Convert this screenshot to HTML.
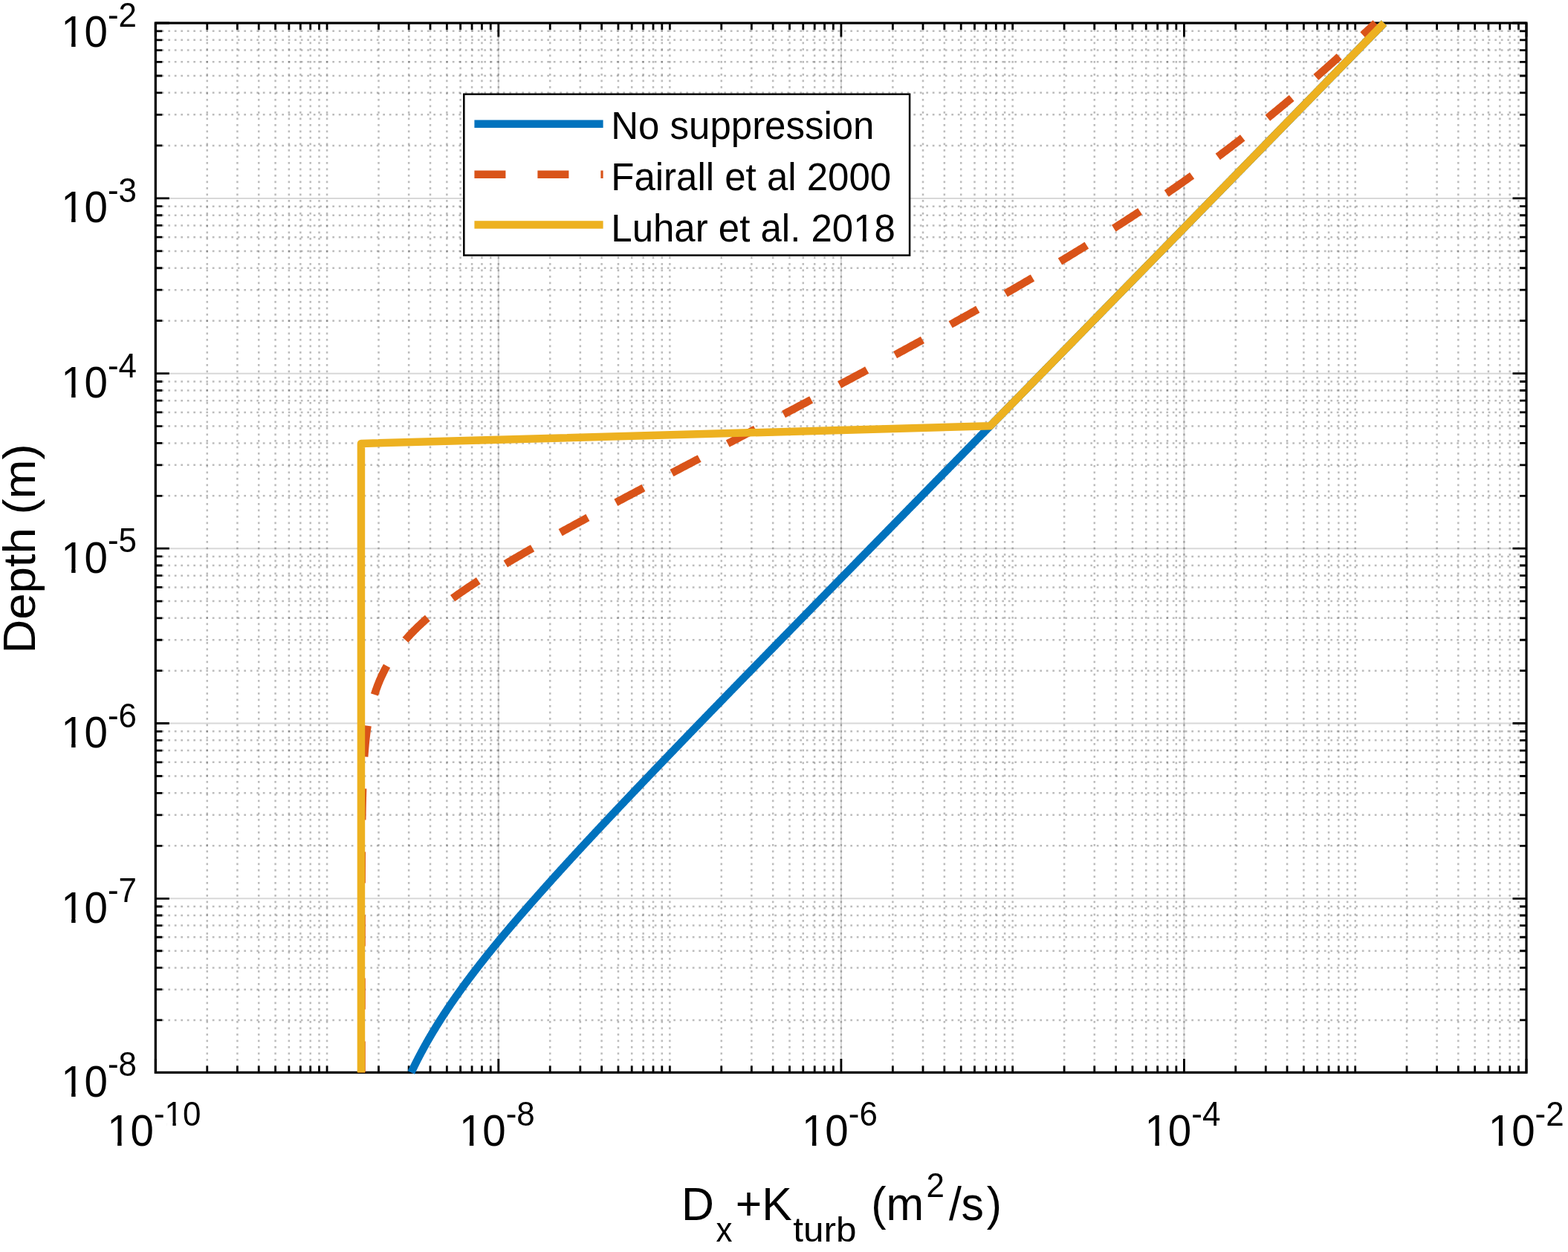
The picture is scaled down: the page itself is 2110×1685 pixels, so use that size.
<!DOCTYPE html>
<html><head><meta charset="utf-8"><style>html,body{margin:0;padding:0;background:#fff;overflow:hidden}svg{display:block}</style></head>
<body>
<svg width="2110" height="1685" viewBox="0 0 2110 1685">
<rect x="0" y="0" width="2110" height="1685" fill="#fff"/>
<style>.mn{stroke:#262626;stroke-opacity:0.31;stroke-width:2.5;stroke-dasharray:2.7 5.8;fill:none}.mj{stroke:#262626;stroke-opacity:0.18;stroke-width:2;fill:none}.tk{stroke:#000;stroke-width:2.8;fill:none}</style>
<g><line x1="278.76" y1="31.00" x2="278.76" y2="1443.40" class="mn"/><line x1="319.40" y1="31.00" x2="319.40" y2="1443.40" class="mn"/><line x1="348.23" y1="31.00" x2="348.23" y2="1443.40" class="mn"/><line x1="370.59" y1="31.00" x2="370.59" y2="1443.40" class="mn"/><line x1="388.86" y1="31.00" x2="388.86" y2="1443.40" class="mn"/><line x1="404.31" y1="31.00" x2="404.31" y2="1443.40" class="mn"/><line x1="417.69" y1="31.00" x2="417.69" y2="1443.40" class="mn"/><line x1="429.49" y1="31.00" x2="429.49" y2="1443.40" class="mn"/><line x1="440.05" y1="31.00" x2="440.05" y2="1443.40" class="mn"/><line x1="509.51" y1="31.00" x2="509.51" y2="1443.40" class="mn"/><line x1="550.15" y1="31.00" x2="550.15" y2="1443.40" class="mn"/><line x1="578.98" y1="31.00" x2="578.98" y2="1443.40" class="mn"/><line x1="601.34" y1="31.00" x2="601.34" y2="1443.40" class="mn"/><line x1="619.61" y1="31.00" x2="619.61" y2="1443.40" class="mn"/><line x1="635.06" y1="31.00" x2="635.06" y2="1443.40" class="mn"/><line x1="648.44" y1="31.00" x2="648.44" y2="1443.40" class="mn"/><line x1="660.24" y1="31.00" x2="660.24" y2="1443.40" class="mn"/><line x1="670.80" y1="31.00" x2="670.80" y2="1443.40" class="mn"/><line x1="740.20" y1="31.00" x2="740.20" y2="1443.40" class="mn"/><line x1="780.80" y1="31.00" x2="780.80" y2="1443.40" class="mn"/><line x1="809.60" y1="31.00" x2="809.60" y2="1443.40" class="mn"/><line x1="831.95" y1="31.00" x2="831.95" y2="1443.40" class="mn"/><line x1="850.20" y1="31.00" x2="850.20" y2="1443.40" class="mn"/><line x1="865.64" y1="31.00" x2="865.64" y2="1443.40" class="mn"/><line x1="879.01" y1="31.00" x2="879.01" y2="1443.40" class="mn"/><line x1="890.80" y1="31.00" x2="890.80" y2="1443.40" class="mn"/><line x1="901.35" y1="31.00" x2="901.35" y2="1443.40" class="mn"/><line x1="970.75" y1="31.00" x2="970.75" y2="1443.40" class="mn"/><line x1="1011.35" y1="31.00" x2="1011.35" y2="1443.40" class="mn"/><line x1="1040.15" y1="31.00" x2="1040.15" y2="1443.40" class="mn"/><line x1="1062.50" y1="31.00" x2="1062.50" y2="1443.40" class="mn"/><line x1="1080.75" y1="31.00" x2="1080.75" y2="1443.40" class="mn"/><line x1="1096.19" y1="31.00" x2="1096.19" y2="1443.40" class="mn"/><line x1="1109.56" y1="31.00" x2="1109.56" y2="1443.40" class="mn"/><line x1="1121.35" y1="31.00" x2="1121.35" y2="1443.40" class="mn"/><line x1="1131.90" y1="31.00" x2="1131.90" y2="1443.40" class="mn"/><line x1="1201.36" y1="31.00" x2="1201.36" y2="1443.40" class="mn"/><line x1="1242.00" y1="31.00" x2="1242.00" y2="1443.40" class="mn"/><line x1="1270.83" y1="31.00" x2="1270.83" y2="1443.40" class="mn"/><line x1="1293.19" y1="31.00" x2="1293.19" y2="1443.40" class="mn"/><line x1="1311.46" y1="31.00" x2="1311.46" y2="1443.40" class="mn"/><line x1="1326.91" y1="31.00" x2="1326.91" y2="1443.40" class="mn"/><line x1="1340.29" y1="31.00" x2="1340.29" y2="1443.40" class="mn"/><line x1="1352.09" y1="31.00" x2="1352.09" y2="1443.40" class="mn"/><line x1="1362.65" y1="31.00" x2="1362.65" y2="1443.40" class="mn"/><line x1="1432.11" y1="31.00" x2="1432.11" y2="1443.40" class="mn"/><line x1="1472.75" y1="31.00" x2="1472.75" y2="1443.40" class="mn"/><line x1="1501.58" y1="31.00" x2="1501.58" y2="1443.40" class="mn"/><line x1="1523.94" y1="31.00" x2="1523.94" y2="1443.40" class="mn"/><line x1="1542.21" y1="31.00" x2="1542.21" y2="1443.40" class="mn"/><line x1="1557.66" y1="31.00" x2="1557.66" y2="1443.40" class="mn"/><line x1="1571.04" y1="31.00" x2="1571.04" y2="1443.40" class="mn"/><line x1="1582.84" y1="31.00" x2="1582.84" y2="1443.40" class="mn"/><line x1="1593.40" y1="31.00" x2="1593.40" y2="1443.40" class="mn"/><line x1="1662.73" y1="31.00" x2="1662.73" y2="1443.40" class="mn"/><line x1="1703.28" y1="31.00" x2="1703.28" y2="1443.40" class="mn"/><line x1="1732.05" y1="31.00" x2="1732.05" y2="1443.40" class="mn"/><line x1="1754.37" y1="31.00" x2="1754.37" y2="1443.40" class="mn"/><line x1="1772.61" y1="31.00" x2="1772.61" y2="1443.40" class="mn"/><line x1="1788.03" y1="31.00" x2="1788.03" y2="1443.40" class="mn"/><line x1="1801.38" y1="31.00" x2="1801.38" y2="1443.40" class="mn"/><line x1="1813.16" y1="31.00" x2="1813.16" y2="1443.40" class="mn"/><line x1="1823.70" y1="31.00" x2="1823.70" y2="1443.40" class="mn"/><line x1="1893.03" y1="31.00" x2="1893.03" y2="1443.40" class="mn"/><line x1="1933.58" y1="31.00" x2="1933.58" y2="1443.40" class="mn"/><line x1="1962.35" y1="31.00" x2="1962.35" y2="1443.40" class="mn"/><line x1="1984.67" y1="31.00" x2="1984.67" y2="1443.40" class="mn"/><line x1="2002.91" y1="31.00" x2="2002.91" y2="1443.40" class="mn"/><line x1="2018.33" y1="31.00" x2="2018.33" y2="1443.40" class="mn"/><line x1="2031.68" y1="31.00" x2="2031.68" y2="1443.40" class="mn"/><line x1="2043.46" y1="31.00" x2="2043.46" y2="1443.40" class="mn"/><line x1="209.30" y1="1372.93" x2="2054.00" y2="1372.93" class="mn"/><line x1="209.30" y1="1331.71" x2="2054.00" y2="1331.71" class="mn"/><line x1="209.30" y1="1302.46" x2="2054.00" y2="1302.46" class="mn"/><line x1="209.30" y1="1279.77" x2="2054.00" y2="1279.77" class="mn"/><line x1="209.30" y1="1261.23" x2="2054.00" y2="1261.23" class="mn"/><line x1="209.30" y1="1245.56" x2="2054.00" y2="1245.56" class="mn"/><line x1="209.30" y1="1231.99" x2="2054.00" y2="1231.99" class="mn"/><line x1="209.30" y1="1220.01" x2="2054.00" y2="1220.01" class="mn"/><line x1="209.30" y1="1138.32" x2="2054.00" y2="1138.32" class="mn"/><line x1="209.30" y1="1096.79" x2="2054.00" y2="1096.79" class="mn"/><line x1="209.30" y1="1067.33" x2="2054.00" y2="1067.33" class="mn"/><line x1="209.30" y1="1044.48" x2="2054.00" y2="1044.48" class="mn"/><line x1="209.30" y1="1025.81" x2="2054.00" y2="1025.81" class="mn"/><line x1="209.30" y1="1010.03" x2="2054.00" y2="1010.03" class="mn"/><line x1="209.30" y1="996.35" x2="2054.00" y2="996.35" class="mn"/><line x1="209.30" y1="984.29" x2="2054.00" y2="984.29" class="mn"/><line x1="209.30" y1="902.67" x2="2054.00" y2="902.67" class="mn"/><line x1="209.30" y1="861.23" x2="2054.00" y2="861.23" class="mn"/><line x1="209.30" y1="831.84" x2="2054.00" y2="831.84" class="mn"/><line x1="209.30" y1="809.03" x2="2054.00" y2="809.03" class="mn"/><line x1="209.30" y1="790.40" x2="2054.00" y2="790.40" class="mn"/><line x1="209.30" y1="774.65" x2="2054.00" y2="774.65" class="mn"/><line x1="209.30" y1="761.00" x2="2054.00" y2="761.00" class="mn"/><line x1="209.30" y1="748.97" x2="2054.00" y2="748.97" class="mn"/><line x1="209.30" y1="667.31" x2="2054.00" y2="667.31" class="mn"/><line x1="209.30" y1="625.84" x2="2054.00" y2="625.84" class="mn"/><line x1="209.30" y1="596.41" x2="2054.00" y2="596.41" class="mn"/><line x1="209.30" y1="573.59" x2="2054.00" y2="573.59" class="mn"/><line x1="209.30" y1="554.95" x2="2054.00" y2="554.95" class="mn"/><line x1="209.30" y1="539.18" x2="2054.00" y2="539.18" class="mn"/><line x1="209.30" y1="525.52" x2="2054.00" y2="525.52" class="mn"/><line x1="209.30" y1="513.48" x2="2054.00" y2="513.48" class="mn"/><line x1="209.30" y1="431.72" x2="2054.00" y2="431.72" class="mn"/><line x1="209.30" y1="390.19" x2="2054.00" y2="390.19" class="mn"/><line x1="209.30" y1="360.73" x2="2054.00" y2="360.73" class="mn"/><line x1="209.30" y1="337.88" x2="2054.00" y2="337.88" class="mn"/><line x1="209.30" y1="319.21" x2="2054.00" y2="319.21" class="mn"/><line x1="209.30" y1="303.43" x2="2054.00" y2="303.43" class="mn"/><line x1="209.30" y1="289.75" x2="2054.00" y2="289.75" class="mn"/><line x1="209.30" y1="277.69" x2="2054.00" y2="277.69" class="mn"/><line x1="209.30" y1="195.89" x2="2054.00" y2="195.89" class="mn"/><line x1="209.30" y1="154.35" x2="2054.00" y2="154.35" class="mn"/><line x1="209.30" y1="124.87" x2="2054.00" y2="124.87" class="mn"/><line x1="209.30" y1="102.01" x2="2054.00" y2="102.01" class="mn"/><line x1="209.30" y1="83.33" x2="2054.00" y2="83.33" class="mn"/><line x1="209.30" y1="67.54" x2="2054.00" y2="67.54" class="mn"/><line x1="209.30" y1="53.86" x2="2054.00" y2="53.86" class="mn"/><line x1="209.30" y1="41.79" x2="2054.00" y2="41.79" class="mn"/><line x1="670.80" y1="31.00" x2="670.80" y2="1443.40" class="mj"/><line x1="1131.90" y1="31.00" x2="1131.90" y2="1443.40" class="mj"/><line x1="1593.40" y1="31.00" x2="1593.40" y2="1443.40" class="mj"/><line x1="209.30" y1="1209.30" x2="2054.00" y2="1209.30" class="mj"/><line x1="209.30" y1="973.50" x2="2054.00" y2="973.50" class="mj"/><line x1="209.30" y1="738.20" x2="2054.00" y2="738.20" class="mj"/><line x1="209.30" y1="502.70" x2="2054.00" y2="502.70" class="mj"/><line x1="209.30" y1="266.90" x2="2054.00" y2="266.90" class="mj"/></g>
<path class="tk" d="M209.30 1443.40v-18.5M209.30 31.00v18.5M278.76 1443.40v-9M278.76 31.00v9M319.40 1443.40v-9M319.40 31.00v9M348.23 1443.40v-9M348.23 31.00v9M370.59 1443.40v-9M370.59 31.00v9M388.86 1443.40v-9M388.86 31.00v9M404.31 1443.40v-9M404.31 31.00v9M417.69 1443.40v-9M417.69 31.00v9M429.49 1443.40v-9M429.49 31.00v9M440.05 1443.40v-9M440.05 31.00v9M509.51 1443.40v-9M509.51 31.00v9M550.15 1443.40v-9M550.15 31.00v9M578.98 1443.40v-9M578.98 31.00v9M601.34 1443.40v-9M601.34 31.00v9M619.61 1443.40v-9M619.61 31.00v9M635.06 1443.40v-9M635.06 31.00v9M648.44 1443.40v-9M648.44 31.00v9M660.24 1443.40v-9M660.24 31.00v9M670.80 1443.40v-18.5M670.80 31.00v18.5M740.20 1443.40v-9M740.20 31.00v9M780.80 1443.40v-9M780.80 31.00v9M809.60 1443.40v-9M809.60 31.00v9M831.95 1443.40v-9M831.95 31.00v9M850.20 1443.40v-9M850.20 31.00v9M865.64 1443.40v-9M865.64 31.00v9M879.01 1443.40v-9M879.01 31.00v9M890.80 1443.40v-9M890.80 31.00v9M901.35 1443.40v-9M901.35 31.00v9M970.75 1443.40v-9M970.75 31.00v9M1011.35 1443.40v-9M1011.35 31.00v9M1040.15 1443.40v-9M1040.15 31.00v9M1062.50 1443.40v-9M1062.50 31.00v9M1080.75 1443.40v-9M1080.75 31.00v9M1096.19 1443.40v-9M1096.19 31.00v9M1109.56 1443.40v-9M1109.56 31.00v9M1121.35 1443.40v-9M1121.35 31.00v9M1131.90 1443.40v-18.5M1131.90 31.00v18.5M1201.36 1443.40v-9M1201.36 31.00v9M1242.00 1443.40v-9M1242.00 31.00v9M1270.83 1443.40v-9M1270.83 31.00v9M1293.19 1443.40v-9M1293.19 31.00v9M1311.46 1443.40v-9M1311.46 31.00v9M1326.91 1443.40v-9M1326.91 31.00v9M1340.29 1443.40v-9M1340.29 31.00v9M1352.09 1443.40v-9M1352.09 31.00v9M1362.65 1443.40v-9M1362.65 31.00v9M1432.11 1443.40v-9M1432.11 31.00v9M1472.75 1443.40v-9M1472.75 31.00v9M1501.58 1443.40v-9M1501.58 31.00v9M1523.94 1443.40v-9M1523.94 31.00v9M1542.21 1443.40v-9M1542.21 31.00v9M1557.66 1443.40v-9M1557.66 31.00v9M1571.04 1443.40v-9M1571.04 31.00v9M1582.84 1443.40v-9M1582.84 31.00v9M1593.40 1443.40v-18.5M1593.40 31.00v18.5M1662.73 1443.40v-9M1662.73 31.00v9M1703.28 1443.40v-9M1703.28 31.00v9M1732.05 1443.40v-9M1732.05 31.00v9M1754.37 1443.40v-9M1754.37 31.00v9M1772.61 1443.40v-9M1772.61 31.00v9M1788.03 1443.40v-9M1788.03 31.00v9M1801.38 1443.40v-9M1801.38 31.00v9M1813.16 1443.40v-9M1813.16 31.00v9M1823.70 1443.40v-9M1823.70 31.00v9M1893.03 1443.40v-9M1893.03 31.00v9M1933.58 1443.40v-9M1933.58 31.00v9M1962.35 1443.40v-9M1962.35 31.00v9M1984.67 1443.40v-9M1984.67 31.00v9M2002.91 1443.40v-9M2002.91 31.00v9M2018.33 1443.40v-9M2018.33 31.00v9M2031.68 1443.40v-9M2031.68 31.00v9M2043.46 1443.40v-9M2043.46 31.00v9M2054.00 1443.40v-18.5M2054.00 31.00v18.5M209.30 1443.40h18.5M2054.00 1443.40h-18.5M209.30 1372.93h9M2054.00 1372.93h-9M209.30 1331.71h9M2054.00 1331.71h-9M209.30 1302.46h9M2054.00 1302.46h-9M209.30 1279.77h9M2054.00 1279.77h-9M209.30 1261.23h9M2054.00 1261.23h-9M209.30 1245.56h9M2054.00 1245.56h-9M209.30 1231.99h9M2054.00 1231.99h-9M209.30 1220.01h9M2054.00 1220.01h-9M209.30 1209.30h18.5M2054.00 1209.30h-18.5M209.30 1138.32h9M2054.00 1138.32h-9M209.30 1096.79h9M2054.00 1096.79h-9M209.30 1067.33h9M2054.00 1067.33h-9M209.30 1044.48h9M2054.00 1044.48h-9M209.30 1025.81h9M2054.00 1025.81h-9M209.30 1010.03h9M2054.00 1010.03h-9M209.30 996.35h9M2054.00 996.35h-9M209.30 984.29h9M2054.00 984.29h-9M209.30 973.50h18.5M2054.00 973.50h-18.5M209.30 902.67h9M2054.00 902.67h-9M209.30 861.23h9M2054.00 861.23h-9M209.30 831.84h9M2054.00 831.84h-9M209.30 809.03h9M2054.00 809.03h-9M209.30 790.40h9M2054.00 790.40h-9M209.30 774.65h9M2054.00 774.65h-9M209.30 761.00h9M2054.00 761.00h-9M209.30 748.97h9M2054.00 748.97h-9M209.30 738.20h18.5M2054.00 738.20h-18.5M209.30 667.31h9M2054.00 667.31h-9M209.30 625.84h9M2054.00 625.84h-9M209.30 596.41h9M2054.00 596.41h-9M209.30 573.59h9M2054.00 573.59h-9M209.30 554.95h9M2054.00 554.95h-9M209.30 539.18h9M2054.00 539.18h-9M209.30 525.52h9M2054.00 525.52h-9M209.30 513.48h9M2054.00 513.48h-9M209.30 502.70h18.5M2054.00 502.70h-18.5M209.30 431.72h9M2054.00 431.72h-9M209.30 390.19h9M2054.00 390.19h-9M209.30 360.73h9M2054.00 360.73h-9M209.30 337.88h9M2054.00 337.88h-9M209.30 319.21h9M2054.00 319.21h-9M209.30 303.43h9M2054.00 303.43h-9M209.30 289.75h9M2054.00 289.75h-9M209.30 277.69h9M2054.00 277.69h-9M209.30 266.90h18.5M2054.00 266.90h-18.5M209.30 195.89h9M2054.00 195.89h-9M209.30 154.35h9M2054.00 154.35h-9M209.30 124.87h9M2054.00 124.87h-9M209.30 102.01h9M2054.00 102.01h-9M209.30 83.33h9M2054.00 83.33h-9M209.30 67.54h9M2054.00 67.54h-9M209.30 53.86h9M2054.00 53.86h-9M209.30 41.79h9M2054.00 41.79h-9M209.30 31.00h18.5M2054.00 31.00h-18.5"/>
<rect x="209.30" y="31.00" width="1844.70" height="1412.40" fill="none" stroke="#000" stroke-width="3.2"/>
<path d="M553.37 1443.40 L553.92 1442.23 L554.47 1441.06 L555.03 1439.89 L555.59 1438.72 L556.16 1437.55 L556.72 1436.38 L557.29 1435.21 L557.87 1434.04 L558.45 1432.87 L559.03 1431.70 L559.61 1430.52 L560.20 1429.35 L560.79 1428.18 L561.38 1427.01 L561.98 1425.84 L562.58 1424.67 L563.18 1423.50 L563.79 1422.33 L564.40 1421.16 L565.02 1419.99 L565.63 1418.82 L566.25 1417.65 L566.88 1416.48 L567.51 1415.31 L568.14 1414.14 L568.77 1412.97 L569.41 1411.80 L570.05 1410.63 L570.69 1409.46 L571.34 1408.29 L571.99 1407.11 L572.64 1405.94 L573.30 1404.77 L573.96 1403.60 L574.62 1402.43 L575.29 1401.26 L575.96 1400.09 L576.63 1398.92 L577.31 1397.75 L577.99 1396.58 L578.67 1395.41 L579.35 1394.24 L580.04 1393.07 L580.74 1391.90 L581.43 1390.73 L582.13 1389.56 L582.83 1388.39 L583.54 1387.22 L584.24 1386.05 L584.96 1384.88 L585.67 1383.70 L586.39 1382.53 L587.11 1381.36 L587.83 1380.19 L588.56 1379.02 L589.29 1377.85 L590.02 1376.68 L590.76 1375.51 L591.50 1374.34 L592.24 1373.17 L592.98 1372.00 L593.73 1370.83 L594.48 1369.66 L595.24 1368.49 L595.99 1367.32 L596.75 1366.15 L597.52 1364.98 L598.28 1363.81 L599.05 1362.64 L599.83 1361.47 L600.60 1360.29 L601.38 1359.12 L602.16 1357.95 L602.94 1356.78 L603.73 1355.61 L604.52 1354.44 L605.31 1353.27 L606.11 1352.10 L606.90 1350.93 L607.71 1349.76 L608.51 1348.59 L609.32 1347.42 L610.12 1346.25 L610.94 1345.08 L611.75 1343.91 L612.57 1342.74 L613.39 1341.57 L614.21 1340.40 L615.04 1339.23 L615.87 1338.06 L616.70 1336.88 L617.53 1335.71 L618.37 1334.54 L619.21 1333.37 L620.05 1332.20 L620.89 1331.03 L621.74 1329.86 L622.59 1328.69 L623.44 1327.52 L624.30 1326.35 L625.15 1325.18 L626.01 1324.01 L626.88 1322.84 L627.74 1321.67 L628.61 1320.50 L629.48 1319.33 L630.35 1318.16 L631.22 1316.99 L632.10 1315.82 L632.98 1314.64 L633.86 1313.47 L634.75 1312.30 L635.63 1311.13 L636.52 1309.96 L637.41 1308.79 L638.31 1307.62 L639.20 1306.45 L640.10 1305.28 L641.00 1304.11 L641.90 1302.94 L642.81 1301.77 L643.72 1300.60 L644.63 1299.43 L645.54 1298.26 L646.45 1297.09 L647.37 1295.92 L648.29 1294.75 L649.21 1293.58 L650.13 1292.41 L651.05 1291.23 L651.98 1290.06 L652.91 1288.89 L653.84 1287.72 L654.77 1286.55 L655.71 1285.38 L656.65 1284.21 L657.58 1283.04 L658.53 1281.87 L659.47 1280.70 L660.41 1279.53 L661.36 1278.36 L662.31 1277.19 L663.26 1276.02 L664.21 1274.85 L665.17 1273.68 L666.13 1272.51 L667.08 1271.34 L668.04 1270.17 L669.01 1269.00 L669.97 1267.83 L670.94 1266.65 L671.90 1265.48 L672.87 1264.31 L673.84 1263.14 L674.81 1261.97 L675.79 1260.80 L676.76 1259.63 L677.74 1258.46 L678.72 1257.29 L679.70 1256.12 L680.68 1254.95 L681.67 1253.78 L682.65 1252.61 L683.64 1251.44 L684.63 1250.27 L685.62 1249.10 L686.61 1247.93 L687.61 1246.76 L688.60 1245.59 L689.60 1244.41 L690.60 1243.24 L691.60 1242.07 L692.60 1240.90 L693.60 1239.73 L694.61 1238.56 L695.61 1237.39 L696.62 1236.22 L697.63 1235.05 L698.64 1233.88 L699.65 1232.71 L700.66 1231.54 L701.68 1230.37 L702.69 1229.20 L703.71 1228.03 L704.73 1226.86 L705.75 1225.69 L706.77 1224.52 L707.79 1223.35 L708.82 1222.18 L709.84 1221.00 L710.87 1219.83 L711.90 1218.66 L712.93 1217.49 L713.96 1216.32 L714.99 1215.15 L716.02 1213.98 L717.06 1212.81 L718.09 1211.64 L719.13 1210.47 L720.17 1209.30 L721.21 1208.12 L722.25 1206.94 L723.29 1205.76 L724.33 1204.58 L725.37 1203.40 L726.42 1202.23 L727.47 1201.05 L728.51 1199.87 L729.56 1198.69 L730.61 1197.51 L731.66 1196.33 L732.71 1195.15 L733.76 1193.97 L734.82 1192.79 L735.87 1191.62 L736.93 1190.44 L737.98 1189.26 L739.04 1188.08 L740.10 1186.90 L741.16 1185.72 L742.22 1184.54 L743.28 1183.36 L744.34 1182.18 L745.41 1181.00 L746.47 1179.83 L747.54 1178.65 L748.60 1177.47 L749.67 1176.29 L750.74 1175.11 L751.81 1173.93 L752.88 1172.75 L753.95 1171.57 L755.02 1170.39 L756.09 1169.21 L757.17 1168.04 L758.24 1166.86 L759.32 1165.68 L760.39 1164.50 L761.47 1163.32 L762.55 1162.14 L763.62 1160.96 L764.70 1159.78 L765.78 1158.60 L766.86 1157.42 L767.95 1156.25 L769.03 1155.07 L770.11 1153.89 L771.19 1152.71 L772.28 1151.53 L773.36 1150.35 L774.45 1149.17 L775.54 1147.99 L776.62 1146.81 L777.71 1145.63 L778.80 1144.45 L779.89 1143.28 L780.98 1142.10 L782.07 1140.92 L783.16 1139.74 L784.25 1138.56 L785.35 1137.38 L786.44 1136.20 L787.54 1135.02 L788.63 1133.84 L789.73 1132.66 L790.82 1131.49 L791.92 1130.31 L793.02 1129.13 L794.11 1127.95 L795.21 1126.77 L796.31 1125.59 L797.41 1124.41 L798.51 1123.23 L799.61 1122.05 L800.71 1120.88 L801.81 1119.70 L802.92 1118.52 L804.02 1117.34 L805.12 1116.16 L806.23 1114.98 L807.33 1113.80 L808.44 1112.62 L809.54 1111.44 L810.65 1110.26 L811.76 1109.09 L812.86 1107.91 L813.97 1106.73 L815.08 1105.55 L816.19 1104.37 L817.30 1103.19 L818.41 1102.01 L819.52 1100.83 L820.63 1099.65 L821.74 1098.47 L822.85 1097.30 L823.96 1096.12 L825.07 1094.94 L826.19 1093.76 L827.30 1092.58 L828.41 1091.40 L829.53 1090.22 L830.64 1089.04 L831.76 1087.86 L832.87 1086.68 L833.99 1085.50 L835.11 1084.33 L836.22 1083.15 L837.34 1081.97 L838.46 1080.79 L839.58 1079.61 L840.69 1078.43 L841.81 1077.25 L842.93 1076.07 L844.05 1074.89 L845.17 1073.71 L846.29 1072.54 L847.41 1071.36 L848.53 1070.18 L849.65 1069.00 L850.77 1067.82 L851.90 1066.64 L853.02 1065.46 L854.14 1064.28 L855.26 1063.10 L856.39 1061.92 L857.51 1060.75 L858.64 1059.57 L859.76 1058.39 L860.88 1057.21 L862.01 1056.03 L863.13 1054.85 L864.26 1053.67 L865.39 1052.49 L866.51 1051.31 L867.64 1050.13 L868.76 1048.96 L869.89 1047.78 L871.02 1046.60 L872.15 1045.42 L873.27 1044.24 L874.40 1043.06 L875.53 1041.88 L876.66 1040.70 L877.79 1039.52 L878.92 1038.35 L880.05 1037.17 L881.18 1035.99 L882.31 1034.81 L883.44 1033.63 L884.57 1032.45 L885.70 1031.27 L886.83 1030.09 L887.96 1028.91 L889.09 1027.73 L890.22 1026.55 L891.36 1025.38 L892.49 1024.20 L893.62 1023.02 L894.75 1021.84 L895.89 1020.66 L897.02 1019.48 L898.15 1018.30 L899.29 1017.12 L900.42 1015.94 L901.55 1014.76 L902.69 1013.59 L903.82 1012.41 L904.96 1011.23 L906.09 1010.05 L907.23 1008.87 L908.36 1007.69 L909.50 1006.51 L910.63 1005.33 L911.77 1004.15 L912.90 1002.98 L914.04 1001.80 L915.18 1000.62 L916.31 999.44 L917.45 998.26 L918.59 997.08 L919.72 995.90 L920.86 994.72 L922.00 993.54 L923.14 992.36 L924.27 991.19 L925.41 990.01 L926.55 988.83 L927.69 987.65 L928.83 986.47 L929.97 985.29 L931.10 984.11 L932.24 982.93 L933.38 981.75 L934.52 980.57 L935.66 979.40 L936.80 978.22 L937.94 977.04 L939.08 975.86 L940.22 974.68 L941.36 973.50 L942.50 972.32 L943.64 971.15 L944.78 969.97 L945.92 968.79 L947.06 967.62 L948.20 966.44 L949.35 965.26 L950.49 964.09 L951.63 962.91 L952.77 961.74 L953.91 960.56 L955.05 959.38 L956.19 958.21 L957.34 957.03 L958.48 955.85 L959.62 954.68 L960.76 953.50 L961.91 952.32 L963.05 951.15 L964.19 949.97 L965.33 948.79 L966.48 947.62 L967.62 946.44 L968.76 945.26 L969.91 944.09 L971.05 942.91 L972.19 941.73 L973.34 940.56 L974.48 939.38 L975.62 938.20 L976.77 937.03 L977.91 935.85 L979.06 934.68 L980.20 933.50 L981.34 932.32 L982.49 931.15 L983.63 929.97 L984.78 928.79 L985.92 927.62 L987.07 926.44 L988.21 925.26 L989.36 924.09 L990.50 922.91 L991.65 921.73 L992.79 920.56 L993.94 919.38 L995.08 918.20 L996.23 917.03 L997.37 915.85 L998.52 914.67 L999.67 913.50 L1000.81 912.32 L1001.96 911.15 L1003.10 909.97 L1004.25 908.79 L1005.40 907.62 L1006.54 906.44 L1007.69 905.26 L1008.83 904.09 L1009.98 902.91 L1011.13 901.73 L1012.27 900.56 L1013.42 899.38 L1014.57 898.20 L1015.71 897.03 L1016.86 895.85 L1018.01 894.67 L1019.15 893.50 L1020.30 892.32 L1021.45 891.15 L1022.60 889.97 L1023.74 888.79 L1024.89 887.62 L1026.04 886.44 L1027.18 885.26 L1028.33 884.09 L1029.48 882.91 L1030.63 881.73 L1031.77 880.56 L1032.92 879.38 L1034.07 878.20 L1035.22 877.03 L1036.37 875.85 L1037.51 874.67 L1038.66 873.50 L1039.81 872.32 L1040.96 871.14 L1042.11 869.97 L1043.25 868.79 L1044.40 867.62 L1045.55 866.44 L1046.70 865.26 L1047.85 864.09 L1049.00 862.91 L1050.14 861.73 L1051.29 860.56 L1052.44 859.38 L1053.59 858.20 L1054.74 857.03 L1055.89 855.85 L1057.04 854.67 L1058.19 853.50 L1059.33 852.32 L1060.48 851.14 L1061.63 849.97 L1062.78 848.79 L1063.93 847.61 L1065.08 846.44 L1066.23 845.26 L1067.38 844.08 L1068.53 842.91 L1069.68 841.73 L1070.83 840.56 L1071.97 839.38 L1073.12 838.20 L1074.27 837.03 L1075.42 835.85 L1076.57 834.67 L1077.72 833.50 L1078.87 832.32 L1080.02 831.14 L1081.17 829.97 L1082.32 828.79 L1083.47 827.61 L1084.62 826.44 L1085.77 825.26 L1086.92 824.08 L1088.07 822.91 L1089.22 821.73 L1090.37 820.55 L1091.52 819.38 L1092.67 818.20 L1093.82 817.03 L1094.97 815.85 L1096.12 814.67 L1097.27 813.50 L1098.42 812.32 L1099.57 811.14 L1100.72 809.97 L1101.87 808.79 L1103.02 807.61 L1104.17 806.44 L1105.32 805.26 L1106.47 804.08 L1107.62 802.91 L1108.77 801.73 L1109.92 800.55 L1111.07 799.38 L1112.22 798.20 L1113.37 797.03 L1114.52 795.85 L1115.67 794.67 L1116.82 793.50 L1117.98 792.32 L1119.13 791.14 L1120.28 789.97 L1121.43 788.79 L1122.58 787.61 L1123.73 786.44 L1124.88 785.26 L1126.03 784.08 L1127.18 782.91 L1128.33 781.73 L1129.48 780.55 L1130.63 779.38 L1131.78 778.20 L1132.94 777.02 L1134.09 775.85 L1135.24 774.67 L1136.39 773.50 L1137.54 772.32 L1138.70 771.14 L1139.85 769.97 L1141.00 768.79 L1142.15 767.61 L1143.30 766.44 L1144.46 765.26 L1145.61 764.08 L1146.76 762.91 L1147.91 761.73 L1149.06 760.55 L1150.22 759.38 L1151.37 758.20 L1152.52 757.02 L1153.67 755.85 L1154.83 754.67 L1155.98 753.49 L1157.13 752.32 L1158.28 751.14 L1159.43 749.97 L1160.59 748.79 L1161.74 747.61 L1162.89 746.44 L1164.04 745.26 L1165.20 744.08 L1166.35 742.91 L1167.50 741.73 L1168.65 740.55 L1169.81 739.38 L1170.96 738.20 L1172.11 737.02 L1173.26 735.85 L1174.42 734.67 L1175.57 733.49 L1176.72 732.31 L1177.87 731.13 L1179.03 729.96 L1180.18 728.78 L1181.33 727.60 L1182.48 726.42 L1183.64 725.25 L1184.79 724.07 L1185.94 722.89 L1187.10 721.71 L1188.25 720.54 L1189.40 719.36 L1190.55 718.18 L1191.71 717.01 L1192.86 715.83 L1194.01 714.65 L1195.16 713.47 L1196.32 712.30 L1197.47 711.12 L1198.62 709.94 L1199.78 708.76 L1200.93 707.59 L1202.08 706.41 L1203.23 705.23 L1204.39 704.05 L1205.54 702.88 L1206.69 701.70 L1207.85 700.52 L1209.00 699.34 L1210.15 698.17 L1211.30 696.99 L1212.46 695.81 L1213.61 694.63 L1214.76 693.46 L1215.92 692.28 L1217.07 691.10 L1218.22 689.92 L1219.37 688.75 L1220.53 687.57 L1221.68 686.39 L1222.83 685.21 L1223.99 684.03 L1225.14 682.86 L1226.29 681.68 L1227.45 680.50 L1228.60 679.33 L1229.75 678.15 L1230.90 676.97 L1232.06 675.79 L1233.21 674.62 L1234.36 673.44 L1235.52 672.26 L1236.67 671.08 L1237.82 669.90 L1238.98 668.73 L1240.13 667.55 L1241.28 666.37 L1242.44 665.19 L1243.59 664.02 L1244.74 662.84 L1245.89 661.66 L1247.05 660.49 L1248.20 659.31 L1249.35 658.13 L1250.51 656.95 L1251.66 655.78 L1252.81 654.60 L1253.97 653.42 L1255.12 652.24 L1256.27 651.07 L1257.43 649.89 L1258.58 648.71 L1259.73 647.53 L1260.89 646.35 L1262.04 645.18 L1263.19 644.00 L1264.35 642.82 L1265.50 641.64 L1266.65 640.47 L1267.81 639.29 L1268.96 638.11 L1270.11 636.94 L1271.27 635.76 L1272.42 634.58 L1273.57 633.40 L1274.73 632.23 L1275.88 631.05 L1277.03 629.87 L1278.19 628.69 L1279.34 627.51 L1280.49 626.34 L1281.65 625.16 L1282.80 623.98 L1283.95 622.80 L1285.11 621.63 L1286.26 620.45 L1287.41 619.27 L1288.57 618.10 L1289.72 616.92 L1290.87 615.74 L1292.03 614.56 L1293.18 613.38 L1294.33 612.21 L1295.49 611.03 L1296.64 609.85 L1297.79 608.67 L1298.95 607.50 L1300.10 606.32 L1301.25 605.14 L1302.41 603.96 L1303.56 602.79 L1304.71 601.61 L1305.87 600.43 L1307.02 599.26 L1308.17 598.08 L1309.33 596.90 L1310.48 595.72 L1311.63 594.55 L1312.79 593.37 L1313.94 592.19 L1315.09 591.01 L1316.25 589.84 L1317.40 588.66 L1318.55 587.48 L1319.71 586.30 L1320.86 585.12 L1322.01 583.95 L1323.17 582.77 L1324.32 581.59 L1325.47 580.41 L1326.63 579.24 L1327.78 578.06 L1328.94 576.88 L1330.09 575.71 L1331.24 574.53 L1332.40 573.35 L1333.55 572.17 L1334.70 571.00 L1335.86 569.82 L1337.01 568.64 L1338.16 567.46 L1339.32 566.28 L1340.47 565.11 L1341.62 563.93 L1342.78 562.75 L1343.93 561.58 L1345.08 560.40 L1346.24 559.22 L1347.39 558.04 L1348.54 556.87 L1349.70 555.69 L1350.85 554.51 L1352.01 553.33 L1353.16 552.15 L1354.31 550.98 L1355.47 549.80 L1356.62 548.62 L1357.77 547.44 L1358.93 546.27 L1360.08 545.09 L1361.23 543.91 L1362.39 542.74 L1363.54 541.56 L1364.69 540.38 L1365.85 539.20 L1367.00 538.03 L1368.16 536.85 L1369.31 535.67 L1370.46 534.49 L1371.62 533.31 L1372.77 532.14 L1373.92 530.96 L1375.08 529.78 L1376.23 528.60 L1377.38 527.43 L1378.54 526.25 L1379.69 525.07 L1380.84 523.89 L1382.00 522.72 L1383.15 521.54 L1384.31 520.36 L1385.46 519.19 L1386.61 518.01 L1387.77 516.83 L1388.92 515.65 L1390.07 514.47 L1391.23 513.30 L1392.38 512.12 L1393.53 510.94 L1394.69 509.76 L1395.84 508.59 L1397.00 507.41 L1398.15 506.23 L1399.30 505.05 L1400.46 503.88 L1401.61 502.70 L1402.76 501.52 L1403.92 500.34 L1405.07 499.16 L1406.22 497.98 L1407.38 496.80 L1408.53 495.63 L1409.69 494.45 L1410.84 493.27 L1411.99 492.09 L1413.15 490.91 L1414.30 489.73 L1415.45 488.55 L1416.61 487.37 L1417.76 486.19 L1418.91 485.01 L1420.07 483.84 L1421.22 482.66 L1422.38 481.48 L1423.53 480.30 L1424.68 479.12 L1425.84 477.94 L1426.99 476.76 L1428.14 475.58 L1429.30 474.40 L1430.45 473.22 L1431.60 472.05 L1432.76 470.87 L1433.91 469.69 L1435.07 468.51 L1436.22 467.33 L1437.37 466.15 L1438.53 464.97 L1439.68 463.79 L1440.83 462.61 L1441.99 461.44 L1443.14 460.26 L1444.29 459.08 L1445.45 457.90 L1446.60 456.72 L1447.76 455.54 L1448.91 454.36 L1450.06 453.18 L1451.22 452.00 L1452.37 450.82 L1453.52 449.65 L1454.68 448.47 L1455.83 447.29 L1456.99 446.11 L1458.14 444.93 L1459.29 443.75 L1460.45 442.57 L1461.60 441.39 L1462.75 440.21 L1463.91 439.03 L1465.06 437.85 L1466.21 436.68 L1467.37 435.50 L1468.52 434.32 L1469.68 433.14 L1470.83 431.96 L1471.98 430.78 L1473.14 429.60 L1474.29 428.42 L1475.44 427.24 L1476.60 426.06 L1477.75 424.89 L1478.91 423.71 L1480.06 422.53 L1481.21 421.35 L1482.37 420.17 L1483.52 418.99 L1484.67 417.81 L1485.83 416.63 L1486.98 415.45 L1488.13 414.27 L1489.29 413.10 L1490.44 411.92 L1491.60 410.74 L1492.75 409.56 L1493.90 408.38 L1495.06 407.20 L1496.21 406.02 L1497.36 404.84 L1498.52 403.66 L1499.67 402.49 L1500.83 401.31 L1501.98 400.13 L1503.13 398.95 L1504.29 397.77 L1505.44 396.59 L1506.59 395.41 L1507.75 394.23 L1508.90 393.05 L1510.05 391.87 L1511.21 390.69 L1512.36 389.52 L1513.52 388.34 L1514.67 387.16 L1515.82 385.98 L1516.98 384.80 L1518.13 383.62 L1519.28 382.44 L1520.44 381.26 L1521.59 380.08 L1522.75 378.90 L1523.90 377.73 L1525.05 376.55 L1526.21 375.37 L1527.36 374.19 L1528.51 373.01 L1529.67 371.83 L1530.82 370.65 L1531.98 369.47 L1533.13 368.29 L1534.28 367.11 L1535.44 365.94 L1536.59 364.76 L1537.74 363.58 L1538.90 362.40 L1540.05 361.22 L1541.21 360.04 L1542.36 358.86 L1543.51 357.68 L1544.67 356.50 L1545.82 355.32 L1546.97 354.15 L1548.13 352.97 L1549.28 351.79 L1550.44 350.61 L1551.59 349.43 L1552.74 348.25 L1553.90 347.07 L1555.05 345.89 L1556.20 344.71 L1557.36 343.54 L1558.51 342.36 L1559.66 341.18 L1560.82 340.00 L1561.97 338.82 L1563.13 337.64 L1564.28 336.46 L1565.43 335.28 L1566.59 334.10 L1567.74 332.92 L1568.89 331.74 L1570.05 330.57 L1571.20 329.39 L1572.36 328.21 L1573.51 327.03 L1574.66 325.85 L1575.82 324.67 L1576.97 323.49 L1578.12 322.31 L1579.28 321.13 L1580.43 319.95 L1581.59 318.78 L1582.74 317.60 L1583.89 316.42 L1585.05 315.24 L1586.20 314.06 L1587.35 312.88 L1588.51 311.70 L1589.66 310.52 L1590.82 309.34 L1591.97 308.16 L1593.12 306.99 L1594.27 305.81 L1595.43 304.63 L1596.58 303.45 L1597.73 302.27 L1598.88 301.09 L1600.03 299.91 L1601.18 298.73 L1602.34 297.55 L1603.49 296.38 L1604.64 295.20 L1605.79 294.02 L1606.94 292.84 L1608.09 291.66 L1609.24 290.48 L1610.40 289.30 L1611.55 288.12 L1612.70 286.94 L1613.85 285.76 L1615.00 284.59 L1616.15 283.41 L1617.30 282.23 L1618.46 281.05 L1619.61 279.87 L1620.76 278.69 L1621.91 277.51 L1623.06 276.33 L1624.21 275.15 L1625.36 273.97 L1626.52 272.79 L1627.67 271.62 L1628.82 270.44 L1629.97 269.26 L1631.12 268.08 L1632.27 266.90 L1633.43 265.72 L1634.58 264.54 L1635.73 263.36 L1636.88 262.18 L1638.03 261.00 L1639.18 259.82 L1640.33 258.64 L1641.49 257.46 L1642.64 256.28 L1643.79 255.11 L1644.94 253.93 L1646.09 252.75 L1647.24 251.57 L1648.39 250.39 L1649.55 249.21 L1650.70 248.03 L1651.85 246.85 L1653.00 245.67 L1654.15 244.49 L1655.30 243.31 L1656.46 242.13 L1657.61 240.95 L1658.76 239.77 L1659.91 238.59 L1661.06 237.41 L1662.21 236.23 L1663.36 235.05 L1664.52 233.87 L1665.67 232.69 L1666.82 231.51 L1667.97 230.34 L1669.12 229.16 L1670.27 227.98 L1671.42 226.80 L1672.58 225.62 L1673.73 224.44 L1674.88 223.26 L1676.03 222.08 L1677.18 220.90 L1678.33 219.72 L1679.48 218.54 L1680.64 217.36 L1681.79 216.18 L1682.94 215.00 L1684.09 213.82 L1685.24 212.64 L1686.39 211.46 L1687.55 210.28 L1688.70 209.10 L1689.85 207.92 L1691.00 206.75 L1692.15 205.57 L1693.30 204.39 L1694.45 203.21 L1695.61 202.03 L1696.76 200.85 L1697.91 199.67 L1699.06 198.49 L1700.21 197.31 L1701.36 196.13 L1702.51 194.95 L1703.67 193.77 L1704.82 192.59 L1705.97 191.41 L1707.12 190.23 L1708.27 189.05 L1709.42 187.87 L1710.58 186.69 L1711.73 185.51 L1712.88 184.33 L1714.03 183.16 L1715.18 181.98 L1716.33 180.80 L1717.48 179.62 L1718.64 178.44 L1719.79 177.26 L1720.94 176.08 L1722.09 174.90 L1723.24 173.72 L1724.39 172.54 L1725.54 171.36 L1726.70 170.18 L1727.85 169.00 L1729.00 167.82 L1730.15 166.64 L1731.30 165.46 L1732.45 164.28 L1733.61 163.10 L1734.76 161.92 L1735.91 160.74 L1737.06 159.57 L1738.21 158.39 L1739.36 157.21 L1740.51 156.03 L1741.67 154.85 L1742.82 153.67 L1743.97 152.49 L1745.12 151.31 L1746.27 150.13 L1747.42 148.95 L1748.57 147.77 L1749.73 146.59 L1750.88 145.41 L1752.03 144.23 L1753.18 143.05 L1754.33 141.87 L1755.48 140.69 L1756.64 139.51 L1757.79 138.33 L1758.94 137.16 L1760.09 135.98 L1761.24 134.80 L1762.39 133.62 L1763.54 132.44 L1764.70 131.26 L1765.85 130.08 L1767.00 128.90 L1768.15 127.72 L1769.30 126.54 L1770.45 125.36 L1771.60 124.18 L1772.76 123.00 L1773.91 121.82 L1775.06 120.64 L1776.21 119.46 L1777.36 118.28 L1778.51 117.10 L1779.67 115.92 L1780.82 114.74 L1781.97 113.56 L1783.12 112.39 L1784.27 111.21 L1785.42 110.03 L1786.57 108.85 L1787.73 107.67 L1788.88 106.49 L1790.03 105.31 L1791.18 104.13 L1792.33 102.95 L1793.48 101.77 L1794.63 100.59 L1795.79 99.41 L1796.94 98.23 L1798.09 97.05 L1799.24 95.87 L1800.39 94.69 L1801.54 93.51 L1802.70 92.33 L1803.85 91.15 L1805.00 89.97 L1806.15 88.80 L1807.30 87.62 L1808.45 86.44 L1809.60 85.26 L1810.76 84.08 L1811.91 82.90 L1813.06 81.72 L1814.21 80.54 L1815.36 79.36 L1816.51 78.18 L1817.66 77.00 L1818.82 75.82 L1819.97 74.64 L1821.12 73.46 L1822.27 72.28 L1823.42 71.10 L1824.57 69.92 L1825.72 68.74 L1826.88 67.56 L1828.03 66.38 L1829.18 65.21 L1830.33 64.03 L1831.48 62.85 L1832.63 61.67 L1833.79 60.49 L1834.94 59.31 L1836.09 58.13 L1837.24 56.95 L1838.39 55.77 L1839.54 54.59 L1840.69 53.41 L1841.85 52.23 L1843.00 51.05 L1844.15 49.87 L1845.30 48.69 L1846.45 47.51 L1847.60 46.33 L1848.75 45.15 L1849.91 43.97 L1851.06 42.79 L1852.21 41.62 L1853.36 40.44 L1854.51 39.26 L1855.66 38.08 L1856.82 36.90 L1857.97 35.72 L1859.12 34.54 L1860.27 33.36 L1861.42 32.18 L1862.57 31.00" fill="none" stroke="#0072BD" stroke-width="10.5" stroke-linejoin="round"/>
<path d="M486.52 1443.40 L486.52 1442.23 L486.52 1441.06 L486.52 1439.89 L486.52 1438.72 L486.52 1437.55 L486.52 1436.38 L486.52 1435.21 L486.52 1434.04 L486.52 1432.87 L486.52 1431.70 L486.52 1430.52 L486.52 1429.35 L486.52 1428.18 L486.52 1427.01 L486.52 1425.84 L486.52 1424.67 L486.52 1423.50 L486.52 1422.33 L486.52 1421.16 L486.52 1419.99 L486.52 1418.82 L486.52 1417.65 L486.52 1416.48 L486.52 1415.31 L486.52 1414.14 L486.52 1412.97 L486.52 1411.80 L486.52 1410.63 L486.52 1409.46 L486.52 1408.29 L486.52 1407.11 L486.52 1405.94 L486.52 1404.77 L486.52 1403.60 L486.52 1402.43 L486.52 1401.26 L486.52 1400.09 L486.52 1398.92 L486.52 1397.75 L486.52 1396.58 L486.52 1395.41 L486.52 1394.24 L486.52 1393.07 L486.52 1391.90 L486.52 1390.73 L486.52 1389.56 L486.53 1388.39 L486.53 1387.22 L486.53 1386.05 L486.53 1384.88 L486.53 1383.70 L486.53 1382.53 L486.53 1381.36 L486.53 1380.19 L486.53 1379.02 L486.53 1377.85 L486.53 1376.68 L486.53 1375.51 L486.53 1374.34 L486.53 1373.17 L486.53 1372.00 L486.53 1370.83 L486.53 1369.66 L486.53 1368.49 L486.53 1367.32 L486.53 1366.15 L486.53 1364.98 L486.53 1363.81 L486.53 1362.64 L486.53 1361.47 L486.53 1360.29 L486.53 1359.12 L486.53 1357.95 L486.53 1356.78 L486.53 1355.61 L486.53 1354.44 L486.53 1353.27 L486.53 1352.10 L486.53 1350.93 L486.53 1349.76 L486.53 1348.59 L486.53 1347.42 L486.53 1346.25 L486.53 1345.08 L486.53 1343.91 L486.53 1342.74 L486.53 1341.57 L486.53 1340.40 L486.53 1339.23 L486.53 1338.06 L486.53 1336.88 L486.53 1335.71 L486.53 1334.54 L486.53 1333.37 L486.53 1332.20 L486.53 1331.03 L486.53 1329.86 L486.53 1328.69 L486.53 1327.52 L486.53 1326.35 L486.53 1325.18 L486.53 1324.01 L486.53 1322.84 L486.53 1321.67 L486.53 1320.50 L486.53 1319.33 L486.53 1318.16 L486.53 1316.99 L486.53 1315.82 L486.53 1314.64 L486.53 1313.47 L486.53 1312.30 L486.53 1311.13 L486.53 1309.96 L486.54 1308.79 L486.54 1307.62 L486.54 1306.45 L486.54 1305.28 L486.54 1304.11 L486.54 1302.94 L486.54 1301.77 L486.54 1300.60 L486.54 1299.43 L486.54 1298.26 L486.54 1297.09 L486.54 1295.92 L486.54 1294.75 L486.54 1293.58 L486.54 1292.41 L486.54 1291.23 L486.54 1290.06 L486.54 1288.89 L486.54 1287.72 L486.54 1286.55 L486.54 1285.38 L486.54 1284.21 L486.54 1283.04 L486.54 1281.87 L486.54 1280.70 L486.54 1279.53 L486.55 1278.36 L486.55 1277.19 L486.55 1276.02 L486.55 1274.85 L486.55 1273.68 L486.55 1272.51 L486.55 1271.34 L486.55 1270.17 L486.55 1269.00 L486.55 1267.83 L486.55 1266.65 L486.55 1265.48 L486.55 1264.31 L486.55 1263.14 L486.55 1261.97 L486.55 1260.80 L486.56 1259.63 L486.56 1258.46 L486.56 1257.29 L486.56 1256.12 L486.56 1254.95 L486.56 1253.78 L486.56 1252.61 L486.56 1251.44 L486.56 1250.27 L486.56 1249.10 L486.56 1247.93 L486.57 1246.76 L486.57 1245.59 L486.57 1244.41 L486.57 1243.24 L486.57 1242.07 L486.57 1240.90 L486.57 1239.73 L486.57 1238.56 L486.57 1237.39 L486.58 1236.22 L486.58 1235.05 L486.58 1233.88 L486.58 1232.71 L486.58 1231.54 L486.58 1230.37 L486.58 1229.20 L486.58 1228.03 L486.59 1226.86 L486.59 1225.69 L486.59 1224.52 L486.59 1223.35 L486.59 1222.18 L486.59 1221.00 L486.60 1219.83 L486.60 1218.66 L486.60 1217.49 L486.60 1216.32 L486.60 1215.15 L486.60 1213.98 L486.61 1212.81 L486.61 1211.64 L486.61 1210.47 L486.61 1209.30 L486.61 1208.12 L486.62 1206.94 L486.62 1205.76 L486.62 1204.58 L486.62 1203.40 L486.63 1202.23 L486.63 1201.05 L486.63 1199.87 L486.63 1198.69 L486.64 1197.51 L486.64 1196.33 L486.64 1195.15 L486.64 1193.97 L486.65 1192.79 L486.65 1191.62 L486.65 1190.44 L486.65 1189.26 L486.66 1188.08 L486.66 1186.90 L486.66 1185.72 L486.67 1184.54 L486.67 1183.36 L486.67 1182.18 L486.68 1181.00 L486.68 1179.83 L486.69 1178.65 L486.69 1177.47 L486.69 1176.29 L486.70 1175.11 L486.70 1173.93 L486.71 1172.75 L486.71 1171.57 L486.71 1170.39 L486.72 1169.21 L486.72 1168.04 L486.73 1166.86 L486.73 1165.68 L486.74 1164.50 L486.74 1163.32 L486.75 1162.14 L486.75 1160.96 L486.76 1159.78 L486.76 1158.60 L486.77 1157.42 L486.77 1156.25 L486.78 1155.07 L486.79 1153.89 L486.79 1152.71 L486.80 1151.53 L486.81 1150.35 L486.81 1149.17 L486.82 1147.99 L486.83 1146.81 L486.83 1145.63 L486.84 1144.45 L486.85 1143.28 L486.85 1142.10 L486.86 1140.92 L486.87 1139.74 L486.88 1138.56 L486.89 1137.38 L486.90 1136.20 L486.90 1135.02 L486.91 1133.84 L486.92 1132.66 L486.93 1131.49 L486.94 1130.31 L486.95 1129.13 L486.96 1127.95 L486.97 1126.77 L486.98 1125.59 L486.99 1124.41 L487.00 1123.23 L487.01 1122.05 L487.02 1120.88 L487.04 1119.70 L487.05 1118.52 L487.06 1117.34 L487.07 1116.16 L487.09 1114.98 L487.10 1113.80 L487.11 1112.62 L487.13 1111.44 L487.14 1110.26 L487.15 1109.09 L487.17 1107.91 L487.18 1106.73 L487.20 1105.55 L487.22 1104.37 L487.23 1103.19 L487.25 1102.01 L487.26 1100.83 L487.28 1099.65 L487.30 1098.47 L487.32 1097.30 L487.34 1096.12 L487.35 1094.94 L487.37 1093.76 L487.39 1092.58 L487.41 1091.40 L487.43 1090.22 L487.46 1089.04 L487.48 1087.86 L487.50 1086.68 L487.52 1085.50 L487.55 1084.33 L487.57 1083.15 L487.59 1081.97 L487.62 1080.79 L487.64 1079.61 L487.67 1078.43 L487.70 1077.25 L487.72 1076.07 L487.75 1074.89 L487.78 1073.71 L487.81 1072.54 L487.84 1071.36 L487.87 1070.18 L487.90 1069.00 L487.93 1067.82 L487.96 1066.64 L488.00 1065.46 L488.03 1064.28 L488.07 1063.10 L488.10 1061.92 L488.14 1060.75 L488.18 1059.57 L488.21 1058.39 L488.25 1057.21 L488.29 1056.03 L488.33 1054.85 L488.38 1053.67 L488.42 1052.49 L488.46 1051.31 L488.51 1050.13 L488.55 1048.96 L488.60 1047.78 L488.65 1046.60 L488.70 1045.42 L488.75 1044.24 L488.80 1043.06 L488.85 1041.88 L488.90 1040.70 L488.96 1039.52 L489.02 1038.35 L489.07 1037.17 L489.13 1035.99 L489.19 1034.81 L489.25 1033.63 L489.31 1032.45 L489.38 1031.27 L489.44 1030.09 L489.51 1028.91 L489.58 1027.73 L489.65 1026.55 L489.72 1025.38 L489.80 1024.20 L489.87 1023.02 L489.95 1021.84 L490.03 1020.66 L490.11 1019.48 L490.19 1018.30 L490.27 1017.12 L490.36 1015.94 L490.44 1014.76 L490.53 1013.59 L490.63 1012.41 L490.72 1011.23 L490.81 1010.05 L490.91 1008.87 L491.01 1007.69 L491.11 1006.51 L491.22 1005.33 L491.33 1004.15 L491.43 1002.98 L491.55 1001.80 L491.66 1000.62 L491.78 999.44 L491.90 998.26 L492.02 997.08 L492.14 995.90 L492.27 994.72 L492.40 993.54 L492.53 992.36 L492.67 991.19 L492.81 990.01 L492.95 988.83 L493.09 987.65 L493.24 986.47 L493.39 985.29 L493.55 984.11 L493.70 982.93 L493.87 981.75 L494.03 980.57 L494.20 979.40 L494.37 978.22 L494.55 977.04 L494.73 975.86 L494.91 974.68 L495.10 973.50 L495.29 972.32 L495.48 971.15 L495.68 969.97 L495.89 968.79 L496.09 967.62 L496.31 966.44 L496.52 965.26 L496.74 964.09 L496.97 962.91 L497.20 961.74 L497.44 960.56 L497.68 959.38 L497.92 958.21 L498.17 957.03 L498.43 955.85 L498.69 954.68 L498.95 953.50 L499.23 952.32 L499.50 951.15 L499.79 949.97 L500.08 948.79 L500.37 947.62 L500.67 946.44 L500.98 945.26 L501.29 944.09 L501.61 942.91 L501.94 941.73 L502.27 940.56 L502.61 939.38 L502.95 938.20 L503.30 937.03 L503.66 935.85 L504.03 934.68 L504.40 933.50 L504.78 932.32 L505.17 931.15 L505.57 929.97 L505.97 928.79 L506.38 927.62 L506.80 926.44 L507.22 925.26 L507.66 924.09 L508.10 922.91 L508.55 921.73 L509.01 920.56 L509.48 919.38 L509.95 918.20 L510.44 917.03 L510.93 915.85 L511.44 914.67 L511.95 913.50 L512.47 912.32 L513.00 911.15 L513.54 909.97 L514.09 908.79 L514.65 907.62 L515.22 906.44 L515.80 905.26 L516.39 904.09 L516.99 902.91 L517.59 901.73 L518.21 900.56 L518.84 899.38 L519.49 898.20 L520.14 897.03 L520.80 895.85 L521.47 894.67 L522.16 893.50 L522.85 892.32 L523.56 891.15 L524.28 889.97 L525.01 888.79 L525.75 887.62 L526.50 886.44 L527.26 885.26 L528.04 884.09 L528.83 882.91 L529.63 881.73 L530.44 880.56 L531.26 879.38 L532.10 878.20 L532.95 877.03 L533.81 875.85 L534.68 874.67 L535.56 873.50 L536.46 872.32 L537.37 871.14 L538.30 869.97 L539.23 868.79 L540.18 867.62 L541.14 866.44 L542.12 865.26 L543.11 864.09 L544.11 862.91 L545.12 861.73 L546.15 860.56 L547.19 859.38 L548.24 858.20 L549.31 857.03 L550.39 855.85 L551.48 854.67 L552.58 853.50 L553.70 852.32 L554.83 851.14 L555.98 849.97 L557.14 848.79 L558.31 847.61 L559.49 846.44 L560.69 845.26 L561.90 844.08 L563.13 842.91 L564.36 841.73 L565.62 840.56 L566.88 839.38 L568.16 838.20 L569.45 837.03 L570.75 835.85 L572.06 834.67 L573.39 833.50 L574.73 832.32 L576.09 831.14 L577.46 829.97 L578.84 828.79 L580.23 827.61 L581.63 826.44 L583.05 825.26 L584.48 824.08 L585.92 822.91 L587.38 821.73 L588.85 820.55 L590.33 819.38 L591.82 818.20 L593.32 817.03 L594.83 815.85 L596.36 814.67 L597.90 813.50 L599.45 812.32 L601.01 811.14 L602.59 809.97 L604.17 808.79 L605.77 807.61 L607.37 806.44 L608.99 805.26 L610.62 804.08 L612.26 802.91 L613.91 801.73 L615.57 800.55 L617.24 799.38 L618.93 798.20 L620.62 797.03 L622.32 795.85 L624.03 794.67 L625.76 793.50 L627.49 792.32 L629.23 791.14 L630.98 789.97 L632.74 788.79 L634.51 787.61 L636.29 786.44 L638.08 785.26 L639.88 784.08 L641.69 782.91 L643.50 781.73 L645.33 780.55 L647.16 779.38 L649.00 778.20 L650.85 777.02 L652.71 775.85 L654.57 774.67 L656.45 773.50 L658.33 772.32 L660.22 771.14 L662.11 769.97 L664.02 768.79 L665.93 767.61 L667.85 766.44 L669.78 765.26 L671.71 764.08 L673.65 762.91 L675.59 761.73 L677.54 760.55 L679.50 759.38 L681.47 758.20 L683.44 757.02 L685.42 755.85 L687.40 754.67 L689.39 753.49 L691.38 752.32 L693.39 751.14 L695.39 749.97 L697.41 748.79 L699.42 747.61 L701.45 746.44 L703.48 745.26 L705.51 744.08 L707.55 742.91 L709.60 741.73 L711.64 740.55 L713.70 739.38 L715.76 738.20 L717.82 737.02 L719.89 735.85 L721.96 734.67 L724.04 733.49 L726.12 732.31 L728.21 731.13 L730.30 729.96 L732.39 728.78 L734.49 727.60 L736.59 726.42 L738.70 725.25 L740.81 724.07 L742.92 722.89 L745.04 721.71 L747.16 720.54 L749.28 719.36 L751.41 718.18 L753.54 717.01 L755.67 715.83 L757.81 714.65 L759.95 713.47 L762.10 712.30 L764.24 711.12 L766.39 709.94 L768.54 708.76 L770.70 707.59 L772.85 706.41 L775.02 705.23 L777.18 704.05 L779.34 702.88 L781.51 701.70 L783.68 700.52 L785.85 699.34 L788.03 698.17 L790.21 696.99 L792.39 695.81 L794.57 694.63 L796.75 693.46 L798.94 692.28 L801.13 691.10 L803.31 689.92 L805.51 688.75 L807.70 687.57 L809.90 686.39 L812.09 685.21 L814.29 684.03 L816.49 682.86 L818.70 681.68 L820.90 680.50 L823.10 679.33 L825.31 678.15 L827.52 676.97 L829.73 675.79 L831.94 674.62 L834.16 673.44 L836.37 672.26 L838.58 671.08 L840.80 669.90 L843.02 668.73 L845.24 667.55 L847.46 666.37 L849.68 665.19 L851.90 664.02 L854.13 662.84 L856.35 661.66 L858.58 660.49 L860.80 659.31 L863.03 658.13 L865.26 656.95 L867.49 655.78 L869.72 654.60 L871.95 653.42 L874.18 652.24 L876.42 651.07 L878.65 649.89 L880.88 648.71 L883.12 647.53 L885.35 646.35 L887.59 645.18 L889.83 644.00 L892.06 642.82 L894.30 641.64 L896.54 640.47 L898.78 639.29 L901.02 638.11 L903.26 636.94 L905.50 635.76 L907.74 634.58 L909.98 633.40 L912.22 632.23 L914.47 631.05 L916.71 629.87 L918.95 628.69 L921.20 627.51 L923.44 626.34 L925.68 625.16 L927.93 623.98 L930.17 622.80 L932.42 621.63 L934.66 620.45 L936.91 619.27 L939.15 618.10 L941.40 616.92 L943.64 615.74 L945.89 614.56 L948.13 613.38 L950.38 612.21 L952.63 611.03 L954.87 609.85 L957.12 608.67 L959.36 607.50 L961.61 606.32 L963.86 605.14 L966.10 603.96 L968.35 602.79 L970.59 601.61 L972.84 600.43 L975.09 599.26 L977.33 598.08 L979.58 596.90 L981.82 595.72 L984.07 594.55 L986.32 593.37 L988.56 592.19 L990.81 591.01 L993.05 589.84 L995.30 588.66 L997.54 587.48 L999.78 586.30 L1002.03 585.12 L1004.27 583.95 L1006.52 582.77 L1008.76 581.59 L1011.00 580.41 L1013.25 579.24 L1015.49 578.06 L1017.73 576.88 L1019.97 575.71 L1022.21 574.53 L1024.45 573.35 L1026.70 572.17 L1028.94 571.00 L1031.18 569.82 L1033.42 568.64 L1035.66 567.46 L1037.89 566.28 L1040.13 565.11 L1042.37 563.93 L1044.61 562.75 L1046.85 561.58 L1049.08 560.40 L1051.32 559.22 L1053.55 558.04 L1055.79 556.87 L1058.02 555.69 L1060.26 554.51 L1062.49 553.33 L1064.72 552.15 L1066.96 550.98 L1069.19 549.80 L1071.42 548.62 L1073.65 547.44 L1075.88 546.27 L1078.11 545.09 L1080.34 543.91 L1082.57 542.74 L1084.80 541.56 L1087.02 540.38 L1089.25 539.20 L1091.48 538.03 L1093.70 536.85 L1095.92 535.67 L1098.15 534.49 L1100.37 533.31 L1102.59 532.14 L1104.81 530.96 L1107.04 529.78 L1109.26 528.60 L1111.47 527.43 L1113.69 526.25 L1115.91 525.07 L1118.13 523.89 L1120.34 522.72 L1122.56 521.54 L1124.77 520.36 L1126.99 519.19 L1129.20 518.01 L1131.41 516.83 L1133.62 515.65 L1135.83 514.47 L1138.05 513.30 L1140.26 512.12 L1142.46 510.94 L1144.67 509.76 L1146.88 508.59 L1149.09 507.41 L1151.29 506.23 L1153.50 505.05 L1155.70 503.88 L1157.90 502.70 L1160.10 501.52 L1162.30 500.34 L1164.50 499.16 L1166.70 497.98 L1168.90 496.80 L1171.09 495.63 L1173.29 494.45 L1175.48 493.27 L1177.67 492.09 L1179.87 490.91 L1182.06 489.73 L1184.25 488.55 L1186.43 487.37 L1188.62 486.19 L1190.81 485.01 L1192.99 483.84 L1195.17 482.66 L1197.36 481.48 L1199.54 480.30 L1201.72 479.12 L1203.90 477.94 L1206.07 476.76 L1208.25 475.58 L1210.42 474.40 L1212.60 473.22 L1214.77 472.05 L1216.94 470.87 L1219.11 469.69 L1221.28 468.51 L1223.44 467.33 L1225.61 466.15 L1227.77 464.97 L1229.93 463.79 L1232.09 462.61 L1234.25 461.44 L1236.41 460.26 L1238.57 459.08 L1240.72 457.90 L1242.88 456.72 L1245.03 455.54 L1247.18 454.36 L1249.33 453.18 L1251.48 452.00 L1253.62 450.82 L1255.77 449.65 L1257.91 448.47 L1260.05 447.29 L1262.19 446.11 L1264.33 444.93 L1266.46 443.75 L1268.60 442.57 L1270.73 441.39 L1272.86 440.21 L1274.99 439.03 L1277.12 437.85 L1279.24 436.68 L1281.37 435.50 L1283.49 434.32 L1285.61 433.14 L1287.73 431.96 L1289.85 430.78 L1291.96 429.60 L1294.08 428.42 L1296.19 427.24 L1298.30 426.06 L1300.41 424.89 L1302.51 423.71 L1304.62 422.53 L1306.72 421.35 L1308.82 420.17 L1310.92 418.99 L1313.01 417.81 L1315.11 416.63 L1317.20 415.45 L1319.29 414.27 L1321.38 413.10 L1323.46 411.92 L1325.55 410.74 L1327.63 409.56 L1329.71 408.38 L1331.79 407.20 L1333.87 406.02 L1335.94 404.84 L1338.01 403.66 L1340.08 402.49 L1342.15 401.31 L1344.21 400.13 L1346.28 398.95 L1348.34 397.77 L1350.39 396.59 L1352.45 395.41 L1354.50 394.23 L1356.56 393.05 L1358.61 391.87 L1360.65 390.69 L1362.70 389.52 L1364.74 388.34 L1366.78 387.16 L1368.82 385.98 L1370.85 384.80 L1372.89 383.62 L1374.92 382.44 L1376.95 381.26 L1378.97 380.08 L1380.99 378.90 L1383.01 377.73 L1385.03 376.55 L1387.05 375.37 L1389.06 374.19 L1391.07 373.01 L1393.08 371.83 L1395.09 370.65 L1397.09 369.47 L1399.09 368.29 L1401.09 367.11 L1403.08 365.94 L1405.08 364.76 L1407.07 363.58 L1409.05 362.40 L1411.04 361.22 L1413.02 360.04 L1415.00 358.86 L1416.98 357.68 L1418.95 356.50 L1420.92 355.32 L1422.89 354.15 L1424.86 352.97 L1426.82 351.79 L1428.78 350.61 L1430.74 349.43 L1432.69 348.25 L1434.64 347.07 L1436.59 345.89 L1438.54 344.71 L1440.48 343.54 L1442.42 342.36 L1444.36 341.18 L1446.29 340.00 L1448.22 338.82 L1450.15 337.64 L1452.08 336.46 L1454.00 335.28 L1455.92 334.10 L1457.84 332.92 L1459.75 331.74 L1461.66 330.57 L1463.57 329.39 L1465.48 328.21 L1467.38 327.03 L1469.28 325.85 L1471.17 324.67 L1473.07 323.49 L1474.96 322.31 L1476.84 321.13 L1478.73 319.95 L1480.61 318.78 L1482.48 317.60 L1484.36 316.42 L1486.23 315.24 L1488.10 314.06 L1489.96 312.88 L1491.82 311.70 L1493.68 310.52 L1495.54 309.34 L1497.39 308.16 L1499.24 306.99 L1501.09 305.81 L1502.93 304.63 L1504.77 303.45 L1506.60 302.27 L1508.44 301.09 L1510.27 299.91 L1512.09 298.73 L1513.92 297.55 L1515.74 296.38 L1517.55 295.20 L1519.37 294.02 L1521.18 292.84 L1522.99 291.66 L1524.79 290.48 L1526.59 289.30 L1528.39 288.12 L1530.18 286.94 L1531.97 285.76 L1533.76 284.59 L1535.55 283.41 L1537.33 282.23 L1539.10 281.05 L1540.88 279.87 L1542.65 278.69 L1544.42 277.51 L1546.18 276.33 L1547.94 275.15 L1549.70 273.97 L1551.46 272.79 L1553.21 271.62 L1554.95 270.44 L1556.70 269.26 L1558.44 268.08 L1560.18 266.90 L1561.91 265.72 L1563.64 264.54 L1565.37 263.36 L1567.10 262.18 L1568.82 261.00 L1570.54 259.82 L1572.25 258.64 L1573.96 257.46 L1575.67 256.28 L1577.38 255.11 L1579.08 253.93 L1580.77 252.75 L1582.47 251.57 L1584.16 250.39 L1585.85 249.21 L1587.53 248.03 L1589.22 246.85 L1590.89 245.67 L1592.57 244.49 L1594.24 243.31 L1595.90 242.13 L1597.57 240.95 L1599.23 239.77 L1600.88 238.59 L1602.53 237.41 L1604.18 236.23 L1605.83 235.05 L1607.47 233.87 L1609.11 232.69 L1610.74 231.51 L1612.38 230.34 L1614.01 229.16 L1615.63 227.98 L1617.26 226.80 L1618.88 225.62 L1620.49 224.44 L1622.11 223.26 L1623.72 222.08 L1625.32 220.90 L1626.93 219.72 L1628.53 218.54 L1630.13 217.36 L1631.72 216.18 L1633.31 215.00 L1634.90 213.82 L1636.49 212.64 L1638.07 211.46 L1639.65 210.28 L1641.22 209.10 L1642.80 207.92 L1644.36 206.75 L1645.93 205.57 L1647.49 204.39 L1649.06 203.21 L1650.61 202.03 L1652.17 200.85 L1653.72 199.67 L1655.27 198.49 L1656.81 197.31 L1658.36 196.13 L1659.89 194.95 L1661.43 193.77 L1662.97 192.59 L1664.50 191.41 L1666.02 190.23 L1667.55 189.05 L1669.07 187.87 L1670.59 186.69 L1672.11 185.51 L1673.62 184.33 L1675.13 183.16 L1676.64 181.98 L1678.14 180.80 L1679.64 179.62 L1681.14 178.44 L1682.64 177.26 L1684.13 176.08 L1685.62 174.90 L1687.11 173.72 L1688.60 172.54 L1690.08 171.36 L1691.56 170.18 L1693.04 169.00 L1694.51 167.82 L1695.98 166.64 L1697.45 165.46 L1698.92 164.28 L1700.38 163.10 L1701.85 161.92 L1703.30 160.74 L1704.76 159.57 L1706.21 158.39 L1707.67 157.21 L1709.11 156.03 L1710.56 154.85 L1712.00 153.67 L1713.44 152.49 L1714.88 151.31 L1716.32 150.13 L1717.75 148.95 L1719.18 147.77 L1720.61 146.59 L1722.04 145.41 L1723.46 144.23 L1724.88 143.05 L1726.30 141.87 L1727.72 140.69 L1729.13 139.51 L1730.55 138.33 L1731.96 137.16 L1733.36 135.98 L1734.77 134.80 L1736.17 133.62 L1737.57 132.44 L1738.97 131.26 L1740.37 130.08 L1741.76 128.90 L1743.15 127.72 L1744.54 126.54 L1745.93 125.36 L1747.31 124.18 L1748.70 123.00 L1750.08 121.82 L1751.46 120.64 L1752.83 119.46 L1754.21 118.28 L1755.58 117.10 L1756.95 115.92 L1758.32 114.74 L1759.69 113.56 L1761.05 112.39 L1762.41 111.21 L1763.78 110.03 L1765.13 108.85 L1766.49 107.67 L1767.85 106.49 L1769.20 105.31 L1770.55 104.13 L1771.90 102.95 L1773.25 101.77 L1774.59 100.59 L1775.93 99.41 L1777.28 98.23 L1778.62 97.05 L1779.95 95.87 L1781.29 94.69 L1782.62 93.51 L1783.96 92.33 L1785.29 91.15 L1786.62 89.97 L1787.94 88.80 L1789.27 87.62 L1790.59 86.44 L1791.92 85.26 L1793.24 84.08 L1794.56 82.90 L1795.87 81.72 L1797.19 80.54 L1798.50 79.36 L1799.82 78.18 L1801.13 77.00 L1802.44 75.82 L1803.74 74.64 L1805.05 73.46 L1806.35 72.28 L1807.66 71.10 L1808.96 69.92 L1810.26 68.74 L1811.56 67.56 L1812.86 66.38 L1814.15 65.21 L1815.45 64.03 L1816.74 62.85 L1818.03 61.67 L1819.32 60.49 L1820.61 59.31 L1821.90 58.13 L1823.18 56.95 L1824.47 55.77 L1825.75 54.59 L1827.03 53.41 L1828.31 52.23 L1829.59 51.05 L1830.87 49.87 L1832.15 48.69 L1833.42 47.51 L1834.70 46.33 L1835.97 45.15 L1837.24 43.97 L1838.51 42.79 L1839.78 41.62 L1841.05 40.44 L1842.31 39.26 L1843.58 38.08 L1844.84 36.90 L1846.11 35.72 L1847.37 34.54 L1848.63 33.36 L1849.89 32.18 L1851.15 31.00" fill="none" stroke="#D95319" stroke-width="10.5" stroke-linejoin="round" stroke-dasharray="42 43" stroke-dashoffset="0"/>
<path d="M485.95 1443.40 L485.95 596.90 L1332.40 573.35 L1333.55 572.17 L1334.70 571.00 L1335.86 569.82 L1337.01 568.64 L1338.16 567.46 L1339.32 566.28 L1340.47 565.11 L1341.62 563.93 L1342.78 562.75 L1343.93 561.58 L1345.08 560.40 L1346.24 559.22 L1347.39 558.04 L1348.54 556.87 L1349.70 555.69 L1350.85 554.51 L1352.01 553.33 L1353.16 552.15 L1354.31 550.98 L1355.47 549.80 L1356.62 548.62 L1357.77 547.44 L1358.93 546.27 L1360.08 545.09 L1361.23 543.91 L1362.39 542.74 L1363.54 541.56 L1364.69 540.38 L1365.85 539.20 L1367.00 538.03 L1368.16 536.85 L1369.31 535.67 L1370.46 534.49 L1371.62 533.31 L1372.77 532.14 L1373.92 530.96 L1375.08 529.78 L1376.23 528.60 L1377.38 527.43 L1378.54 526.25 L1379.69 525.07 L1380.84 523.89 L1382.00 522.72 L1383.15 521.54 L1384.31 520.36 L1385.46 519.19 L1386.61 518.01 L1387.77 516.83 L1388.92 515.65 L1390.07 514.47 L1391.23 513.30 L1392.38 512.12 L1393.53 510.94 L1394.69 509.76 L1395.84 508.59 L1397.00 507.41 L1398.15 506.23 L1399.30 505.05 L1400.46 503.88 L1401.61 502.70 L1402.76 501.52 L1403.92 500.34 L1405.07 499.16 L1406.22 497.98 L1407.38 496.80 L1408.53 495.63 L1409.69 494.45 L1410.84 493.27 L1411.99 492.09 L1413.15 490.91 L1414.30 489.73 L1415.45 488.55 L1416.61 487.37 L1417.76 486.19 L1418.91 485.01 L1420.07 483.84 L1421.22 482.66 L1422.38 481.48 L1423.53 480.30 L1424.68 479.12 L1425.84 477.94 L1426.99 476.76 L1428.14 475.58 L1429.30 474.40 L1430.45 473.22 L1431.60 472.05 L1432.76 470.87 L1433.91 469.69 L1435.07 468.51 L1436.22 467.33 L1437.37 466.15 L1438.53 464.97 L1439.68 463.79 L1440.83 462.61 L1441.99 461.44 L1443.14 460.26 L1444.29 459.08 L1445.45 457.90 L1446.60 456.72 L1447.76 455.54 L1448.91 454.36 L1450.06 453.18 L1451.22 452.00 L1452.37 450.82 L1453.52 449.65 L1454.68 448.47 L1455.83 447.29 L1456.99 446.11 L1458.14 444.93 L1459.29 443.75 L1460.45 442.57 L1461.60 441.39 L1462.75 440.21 L1463.91 439.03 L1465.06 437.85 L1466.21 436.68 L1467.37 435.50 L1468.52 434.32 L1469.68 433.14 L1470.83 431.96 L1471.98 430.78 L1473.14 429.60 L1474.29 428.42 L1475.44 427.24 L1476.60 426.06 L1477.75 424.89 L1478.91 423.71 L1480.06 422.53 L1481.21 421.35 L1482.37 420.17 L1483.52 418.99 L1484.67 417.81 L1485.83 416.63 L1486.98 415.45 L1488.13 414.27 L1489.29 413.10 L1490.44 411.92 L1491.60 410.74 L1492.75 409.56 L1493.90 408.38 L1495.06 407.20 L1496.21 406.02 L1497.36 404.84 L1498.52 403.66 L1499.67 402.49 L1500.83 401.31 L1501.98 400.13 L1503.13 398.95 L1504.29 397.77 L1505.44 396.59 L1506.59 395.41 L1507.75 394.23 L1508.90 393.05 L1510.05 391.87 L1511.21 390.69 L1512.36 389.52 L1513.52 388.34 L1514.67 387.16 L1515.82 385.98 L1516.98 384.80 L1518.13 383.62 L1519.28 382.44 L1520.44 381.26 L1521.59 380.08 L1522.75 378.90 L1523.90 377.73 L1525.05 376.55 L1526.21 375.37 L1527.36 374.19 L1528.51 373.01 L1529.67 371.83 L1530.82 370.65 L1531.98 369.47 L1533.13 368.29 L1534.28 367.11 L1535.44 365.94 L1536.59 364.76 L1537.74 363.58 L1538.90 362.40 L1540.05 361.22 L1541.21 360.04 L1542.36 358.86 L1543.51 357.68 L1544.67 356.50 L1545.82 355.32 L1546.97 354.15 L1548.13 352.97 L1549.28 351.79 L1550.44 350.61 L1551.59 349.43 L1552.74 348.25 L1553.90 347.07 L1555.05 345.89 L1556.20 344.71 L1557.36 343.54 L1558.51 342.36 L1559.66 341.18 L1560.82 340.00 L1561.97 338.82 L1563.13 337.64 L1564.28 336.46 L1565.43 335.28 L1566.59 334.10 L1567.74 332.92 L1568.89 331.74 L1570.05 330.57 L1571.20 329.39 L1572.36 328.21 L1573.51 327.03 L1574.66 325.85 L1575.82 324.67 L1576.97 323.49 L1578.12 322.31 L1579.28 321.13 L1580.43 319.95 L1581.59 318.78 L1582.74 317.60 L1583.89 316.42 L1585.05 315.24 L1586.20 314.06 L1587.35 312.88 L1588.51 311.70 L1589.66 310.52 L1590.82 309.34 L1591.97 308.16 L1593.12 306.99 L1594.27 305.81 L1595.43 304.63 L1596.58 303.45 L1597.73 302.27 L1598.88 301.09 L1600.03 299.91 L1601.18 298.73 L1602.34 297.55 L1603.49 296.38 L1604.64 295.20 L1605.79 294.02 L1606.94 292.84 L1608.09 291.66 L1609.24 290.48 L1610.40 289.30 L1611.55 288.12 L1612.70 286.94 L1613.85 285.76 L1615.00 284.59 L1616.15 283.41 L1617.30 282.23 L1618.46 281.05 L1619.61 279.87 L1620.76 278.69 L1621.91 277.51 L1623.06 276.33 L1624.21 275.15 L1625.36 273.97 L1626.52 272.79 L1627.67 271.62 L1628.82 270.44 L1629.97 269.26 L1631.12 268.08 L1632.27 266.90 L1633.43 265.72 L1634.58 264.54 L1635.73 263.36 L1636.88 262.18 L1638.03 261.00 L1639.18 259.82 L1640.33 258.64 L1641.49 257.46 L1642.64 256.28 L1643.79 255.11 L1644.94 253.93 L1646.09 252.75 L1647.24 251.57 L1648.39 250.39 L1649.55 249.21 L1650.70 248.03 L1651.85 246.85 L1653.00 245.67 L1654.15 244.49 L1655.30 243.31 L1656.46 242.13 L1657.61 240.95 L1658.76 239.77 L1659.91 238.59 L1661.06 237.41 L1662.21 236.23 L1663.36 235.05 L1664.52 233.87 L1665.67 232.69 L1666.82 231.51 L1667.97 230.34 L1669.12 229.16 L1670.27 227.98 L1671.42 226.80 L1672.58 225.62 L1673.73 224.44 L1674.88 223.26 L1676.03 222.08 L1677.18 220.90 L1678.33 219.72 L1679.48 218.54 L1680.64 217.36 L1681.79 216.18 L1682.94 215.00 L1684.09 213.82 L1685.24 212.64 L1686.39 211.46 L1687.55 210.28 L1688.70 209.10 L1689.85 207.92 L1691.00 206.75 L1692.15 205.57 L1693.30 204.39 L1694.45 203.21 L1695.61 202.03 L1696.76 200.85 L1697.91 199.67 L1699.06 198.49 L1700.21 197.31 L1701.36 196.13 L1702.51 194.95 L1703.67 193.77 L1704.82 192.59 L1705.97 191.41 L1707.12 190.23 L1708.27 189.05 L1709.42 187.87 L1710.58 186.69 L1711.73 185.51 L1712.88 184.33 L1714.03 183.16 L1715.18 181.98 L1716.33 180.80 L1717.48 179.62 L1718.64 178.44 L1719.79 177.26 L1720.94 176.08 L1722.09 174.90 L1723.24 173.72 L1724.39 172.54 L1725.54 171.36 L1726.70 170.18 L1727.85 169.00 L1729.00 167.82 L1730.15 166.64 L1731.30 165.46 L1732.45 164.28 L1733.61 163.10 L1734.76 161.92 L1735.91 160.74 L1737.06 159.57 L1738.21 158.39 L1739.36 157.21 L1740.51 156.03 L1741.67 154.85 L1742.82 153.67 L1743.97 152.49 L1745.12 151.31 L1746.27 150.13 L1747.42 148.95 L1748.57 147.77 L1749.73 146.59 L1750.88 145.41 L1752.03 144.23 L1753.18 143.05 L1754.33 141.87 L1755.48 140.69 L1756.64 139.51 L1757.79 138.33 L1758.94 137.16 L1760.09 135.98 L1761.24 134.80 L1762.39 133.62 L1763.54 132.44 L1764.70 131.26 L1765.85 130.08 L1767.00 128.90 L1768.15 127.72 L1769.30 126.54 L1770.45 125.36 L1771.60 124.18 L1772.76 123.00 L1773.91 121.82 L1775.06 120.64 L1776.21 119.46 L1777.36 118.28 L1778.51 117.10 L1779.67 115.92 L1780.82 114.74 L1781.97 113.56 L1783.12 112.39 L1784.27 111.21 L1785.42 110.03 L1786.57 108.85 L1787.73 107.67 L1788.88 106.49 L1790.03 105.31 L1791.18 104.13 L1792.33 102.95 L1793.48 101.77 L1794.63 100.59 L1795.79 99.41 L1796.94 98.23 L1798.09 97.05 L1799.24 95.87 L1800.39 94.69 L1801.54 93.51 L1802.70 92.33 L1803.85 91.15 L1805.00 89.97 L1806.15 88.80 L1807.30 87.62 L1808.45 86.44 L1809.60 85.26 L1810.76 84.08 L1811.91 82.90 L1813.06 81.72 L1814.21 80.54 L1815.36 79.36 L1816.51 78.18 L1817.66 77.00 L1818.82 75.82 L1819.97 74.64 L1821.12 73.46 L1822.27 72.28 L1823.42 71.10 L1824.57 69.92 L1825.72 68.74 L1826.88 67.56 L1828.03 66.38 L1829.18 65.21 L1830.33 64.03 L1831.48 62.85 L1832.63 61.67 L1833.79 60.49 L1834.94 59.31 L1836.09 58.13 L1837.24 56.95 L1838.39 55.77 L1839.54 54.59 L1840.69 53.41 L1841.85 52.23 L1843.00 51.05 L1844.15 49.87 L1845.30 48.69 L1846.45 47.51 L1847.60 46.33 L1848.75 45.15 L1849.91 43.97 L1851.06 42.79 L1852.21 41.62 L1853.36 40.44 L1854.51 39.26 L1855.66 38.08 L1856.82 36.90 L1857.97 35.72 L1859.12 34.54 L1860.27 33.36 L1861.42 32.18 L1862.57 31.00" fill="none" stroke="#EDB120" stroke-width="10.5" stroke-linejoin="round"/>
<rect x="624.3" y="126.8" width="599.8" height="216.8" fill="#fff" stroke="#000" stroke-width="2.5"/>
<line x1="638.4" y1="166.7" x2="811.6" y2="166.7" stroke="#0072BD" stroke-width="10.5"/>
<line x1="638.4" y1="234.8" x2="811.6" y2="234.8" stroke="#D95319" stroke-width="10.5" stroke-dasharray="42 43"/>
<line x1="638.4" y1="302.6" x2="811.6" y2="302.6" stroke="#EDB120" stroke-width="10.5"/>
<text transform="translate(822.30 186.90) scale(0.971 1)" font-family="'Liberation Sans', Arial, sans-serif" font-size="52.5" text-anchor="start" fill="#000">No suppression</text>
<text transform="translate(822.30 255.70) scale(0.971 1)" font-family="'Liberation Sans', Arial, sans-serif" font-size="52.5" text-anchor="start" fill="#000">Fairall et al 2000</text>
<g transform="translate(822.3 324.6) scale(0.971 1)"><text x="0" y="0" font-family="'Liberation Sans', Arial, sans-serif" font-size="52.5" fill="#000">Luhar et al. 2018</text><rect x="338.86" y="-5.12" width="9.75" height="6.72" fill="#fff"/><rect x="353.75" y="-5.12" width="9.34" height="6.72" fill="#fff"/></g>
<g transform="translate(184 1475.70) scale(0.965 1)"><text x="-105.53" y="0" font-family="'Liberation Sans', Arial, sans-serif" font-size="58.5" fill="#000">10</text><text x="-40.46" y="-27.3" font-family="'Liberation Sans', Arial, sans-serif" font-size="45.5" fill="#000">-8</text><rect x="-101.87" y="-5.57" width="10.81" height="7.17" fill="#fff"/><rect x="-85.40" y="-5.57" width="10.35" height="7.17" fill="#fff"/></g>
<g transform="translate(184 1241.60) scale(0.965 1)"><text x="-105.53" y="0" font-family="'Liberation Sans', Arial, sans-serif" font-size="58.5" fill="#000">10</text><text x="-40.46" y="-27.3" font-family="'Liberation Sans', Arial, sans-serif" font-size="45.5" fill="#000">-7</text><rect x="-101.87" y="-5.57" width="10.81" height="7.17" fill="#fff"/><rect x="-85.40" y="-5.57" width="10.35" height="7.17" fill="#fff"/></g>
<g transform="translate(184 1005.80) scale(0.965 1)"><text x="-105.53" y="0" font-family="'Liberation Sans', Arial, sans-serif" font-size="58.5" fill="#000">10</text><text x="-40.46" y="-27.3" font-family="'Liberation Sans', Arial, sans-serif" font-size="45.5" fill="#000">-6</text><rect x="-101.87" y="-5.57" width="10.81" height="7.17" fill="#fff"/><rect x="-85.40" y="-5.57" width="10.35" height="7.17" fill="#fff"/></g>
<g transform="translate(184 770.50) scale(0.965 1)"><text x="-105.53" y="0" font-family="'Liberation Sans', Arial, sans-serif" font-size="58.5" fill="#000">10</text><text x="-40.46" y="-27.3" font-family="'Liberation Sans', Arial, sans-serif" font-size="45.5" fill="#000">-5</text><rect x="-101.87" y="-5.57" width="10.81" height="7.17" fill="#fff"/><rect x="-85.40" y="-5.57" width="10.35" height="7.17" fill="#fff"/></g>
<g transform="translate(184 535.00) scale(0.965 1)"><text x="-105.53" y="0" font-family="'Liberation Sans', Arial, sans-serif" font-size="58.5" fill="#000">10</text><text x="-40.46" y="-27.3" font-family="'Liberation Sans', Arial, sans-serif" font-size="45.5" fill="#000">-4</text><rect x="-101.87" y="-5.57" width="10.81" height="7.17" fill="#fff"/><rect x="-85.40" y="-5.57" width="10.35" height="7.17" fill="#fff"/></g>
<g transform="translate(184 299.20) scale(0.965 1)"><text x="-105.53" y="0" font-family="'Liberation Sans', Arial, sans-serif" font-size="58.5" fill="#000">10</text><text x="-40.46" y="-27.3" font-family="'Liberation Sans', Arial, sans-serif" font-size="45.5" fill="#000">-3</text><rect x="-101.87" y="-5.57" width="10.81" height="7.17" fill="#fff"/><rect x="-85.40" y="-5.57" width="10.35" height="7.17" fill="#fff"/></g>
<g transform="translate(184 63.30) scale(0.965 1)"><text x="-105.53" y="0" font-family="'Liberation Sans', Arial, sans-serif" font-size="58.5" fill="#000">10</text><text x="-40.46" y="-27.3" font-family="'Liberation Sans', Arial, sans-serif" font-size="45.5" fill="#000">-2</text><rect x="-101.87" y="-5.57" width="10.81" height="7.17" fill="#fff"/><rect x="-85.40" y="-5.57" width="10.35" height="7.17" fill="#fff"/></g>
<g transform="translate(207.30 1542.3) scale(0.965 1)"><text x="-65.42" y="0" font-family="'Liberation Sans', Arial, sans-serif" font-size="58.5" fill="#000">10</text><text x="-0.35" y="-27.3" font-family="'Liberation Sans', Arial, sans-serif" font-size="45.5" fill="#000">-10</text><rect x="-61.76" y="-5.57" width="10.81" height="7.17" fill="#fff"/><rect x="-45.29" y="-5.57" width="10.35" height="7.17" fill="#fff"/><rect x="17.47" y="-31.90" width="8.53" height="6.20" fill="#fff"/><rect x="30.52" y="-31.90" width="8.17" height="6.20" fill="#fff"/></g>
<g transform="translate(668.80 1542.3) scale(0.965 1)"><text x="-52.76" y="0" font-family="'Liberation Sans', Arial, sans-serif" font-size="58.5" fill="#000">10</text><text x="12.31" y="-27.3" font-family="'Liberation Sans', Arial, sans-serif" font-size="45.5" fill="#000">-8</text><rect x="-49.11" y="-5.57" width="10.81" height="7.17" fill="#fff"/><rect x="-32.64" y="-5.57" width="10.35" height="7.17" fill="#fff"/></g>
<g transform="translate(1129.90 1542.3) scale(0.965 1)"><text x="-52.76" y="0" font-family="'Liberation Sans', Arial, sans-serif" font-size="58.5" fill="#000">10</text><text x="12.31" y="-27.3" font-family="'Liberation Sans', Arial, sans-serif" font-size="45.5" fill="#000">-6</text><rect x="-49.11" y="-5.57" width="10.81" height="7.17" fill="#fff"/><rect x="-32.64" y="-5.57" width="10.35" height="7.17" fill="#fff"/></g>
<g transform="translate(1591.40 1542.3) scale(0.965 1)"><text x="-52.76" y="0" font-family="'Liberation Sans', Arial, sans-serif" font-size="58.5" fill="#000">10</text><text x="12.31" y="-27.3" font-family="'Liberation Sans', Arial, sans-serif" font-size="45.5" fill="#000">-4</text><rect x="-49.11" y="-5.57" width="10.81" height="7.17" fill="#fff"/><rect x="-32.64" y="-5.57" width="10.35" height="7.17" fill="#fff"/></g>
<g transform="translate(2053.70 1542.3) scale(0.965 1)"><text x="-52.76" y="0" font-family="'Liberation Sans', Arial, sans-serif" font-size="58.5" fill="#000">10</text><text x="12.31" y="-27.3" font-family="'Liberation Sans', Arial, sans-serif" font-size="45.5" fill="#000">-2</text><rect x="-49.11" y="-5.57" width="10.81" height="7.17" fill="#fff"/><rect x="-32.64" y="-5.57" width="10.35" height="7.17" fill="#fff"/></g>
<text transform="translate(47.4 738.5) rotate(-90) scale(1 0.965)" font-family="'Liberation Sans', Arial, sans-serif" font-size="63.5" text-anchor="middle" fill="#000">Depth (m)</text>
<text transform="translate(916.90 1642.40) scale(0.965 1)" font-family="'Liberation Sans', Arial, sans-serif" font-size="63" text-anchor="start" fill="#000">D</text><text transform="translate(963.60 1671.20) scale(0.965 1)" font-family="'Liberation Sans', Arial, sans-serif" font-size="45.5" text-anchor="start" fill="#000">x</text><text transform="translate(989.70 1642.40) scale(0.965 1)" font-family="'Liberation Sans', Arial, sans-serif" font-size="63" text-anchor="start" fill="#000">+K</text><text transform="translate(1067.30 1671.20) scale(1.087 1)" font-family="'Liberation Sans', Arial, sans-serif" font-size="45.5" text-anchor="start" fill="#000">turb</text><text transform="translate(1172.20 1642.40) scale(0.965 1)" font-family="'Liberation Sans', Arial, sans-serif" font-size="63" text-anchor="start" fill="#000">(m</text><text transform="translate(1246.60 1611.00) scale(0.965 1)" font-family="'Liberation Sans', Arial, sans-serif" font-size="45.5" text-anchor="start" fill="#000">2</text><text transform="translate(1277.00 1642.40) scale(0.965 1)" font-family="'Liberation Sans', Arial, sans-serif" font-size="63" text-anchor="start" fill="#000">/</text><text transform="translate(1293.50 1642.40) scale(0.965 1)" font-family="'Liberation Sans', Arial, sans-serif" font-size="63" text-anchor="start" fill="#000">s</text><text transform="translate(1327.80 1642.40) scale(0.965 1)" font-family="'Liberation Sans', Arial, sans-serif" font-size="63" text-anchor="start" fill="#000">)</text>
</svg>
</body></html>
